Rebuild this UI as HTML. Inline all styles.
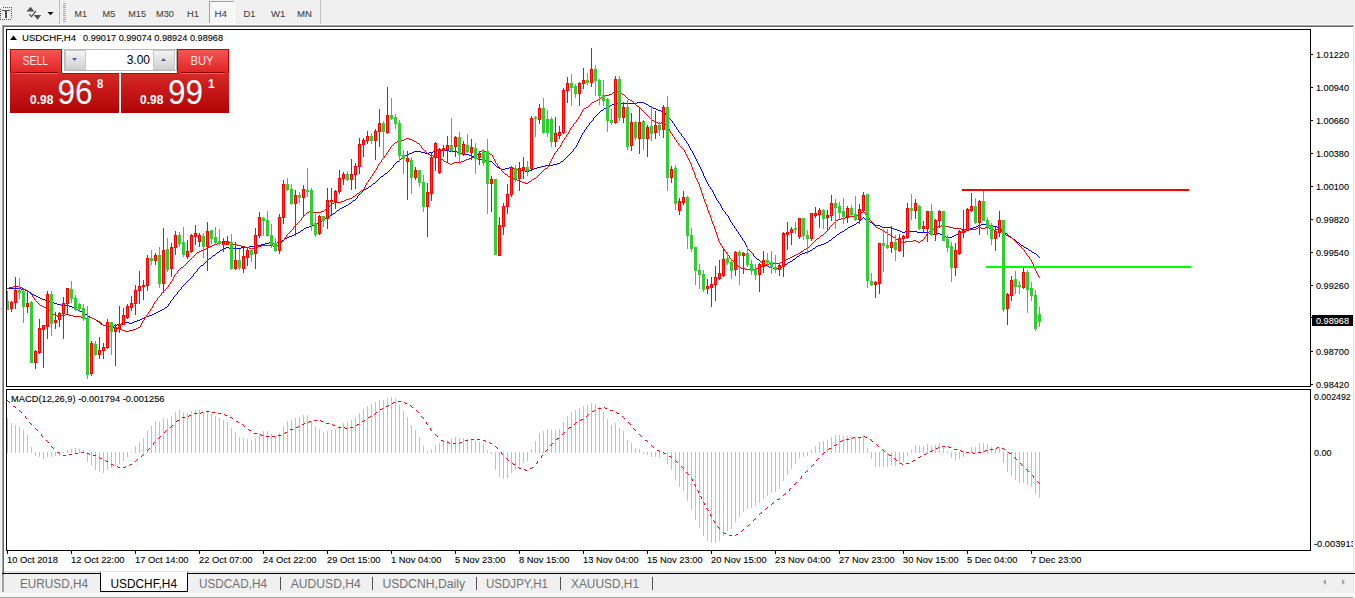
<!DOCTYPE html><html><head><meta charset="utf-8"><style>
html,body{margin:0;padding:0;}body{width:1355px;height:598px;overflow:hidden;background:#f0f0f0;position:relative;font-family:"Liberation Sans",sans-serif;}
svg{position:absolute;left:0;top:0;}text{font-family:"Liberation Sans",sans-serif;}
</style></head><body>
<svg width="1355" height="598" viewBox="0 0 1355 598">
<defs>
<clipPath id="cm"><rect x="7" y="30" width="1303" height="357"/></clipPath>
<clipPath id="cs"><rect x="7" y="390" width="1303" height="160"/></clipPath>
<linearGradient id="gtab" x1="0" y1="0" x2="0" y2="1"><stop offset="0" stop-color="#f85454"/><stop offset="1" stop-color="#e02424"/></linearGradient>
<linearGradient id="gbig" x1="0" y1="0" x2="0" y2="1"><stop offset="0" stop-color="#d82828"/><stop offset="1" stop-color="#b00404"/></linearGradient>
<linearGradient id="gbtn" x1="0" y1="0" x2="0" y2="1"><stop offset="0" stop-color="#f4f4f4"/><stop offset="1" stop-color="#d0d0d0"/></linearGradient>
</defs>
<rect x="0" y="0" width="1355" height="25" fill="#f0f0f0"/>
<g shape-rendering="crispEdges"><rect x="0" y="24" width="1354" height="1" fill="#fafafa"/><rect x="1" y="25" width="1353" height="1" fill="#a0a0a0"/><rect x="2" y="26" width="1351" height="1" fill="#696969"/></g>
<g shape-rendering="crispEdges"><rect x="1" y="25" width="1" height="548" fill="#fafafa"/><rect x="2" y="25" width="1" height="548" fill="#a0a0a0"/><rect x="3" y="26" width="1" height="547" fill="#696969"/></g>
<rect x="4" y="27" width="1349" height="544" fill="#ffffff" shape-rendering="crispEdges"/>
<rect x="4" y="571" width="1349" height="2" fill="#e3e3e3"/>
<rect x="6.5" y="29.5" width="1304" height="357" fill="none" stroke="#000" stroke-width="1"/>
<rect x="6.5" y="389.5" width="1304" height="161" fill="none" stroke="#000" stroke-width="1"/>
<g clip-path="url(#cm)" shape-rendering="crispEdges">
<path d="M7 288h1v1h-1zM8 288h1v1h-1zM9 288h1v1h-1zM10 288h1v1h-1zM11 288h1v1h-1zM12 288h1v1h-1zM13 288h1v1h-1zM14 288h1v1h-1zM15 288h1v1h-1zM16 288h1v1h-1zM17 288h1v1h-1zM18 288h1v1h-1zM19 288h1v1h-1zM20 288h1v1h-1zM21 289h1v1h-1zM22 289h1v1h-1zM23 289h1v1h-1zM24 289h1v1h-1zM25 290h1v1h-1zM26 290h1v1h-1zM27 290h1v1h-1zM28 291h1v1h-1zM29 292h1v1h-1zM30 292h1v1h-1zM31 293h1v1h-1zM32 294h1v1h-1zM33 294h1v1h-1zM34 295h1v1h-1zM35 295h1v1h-1zM36 296h1v1h-1zM37 296h1v1h-1zM38 297h1v1h-1zM39 297h1v1h-1zM40 298h1v1h-1zM41 298h1v1h-1zM42 299h1v1h-1zM43 299h1v1h-1zM44 299h1v1h-1zM45 300h1v1h-1zM46 300h1v1h-1zM47 300h1v1h-1zM48 300h1v1h-1zM49 301h1v1h-1zM50 301h1v1h-1zM51 301h1v1h-1zM52 302h1v1h-1zM53 302h1v1h-1zM54 303h1v1h-1zM55 303h1v1h-1zM56 303h1v1h-1zM57 304h1v1h-1zM58 304h1v1h-1zM59 304h1v1h-1zM60 304h1v1h-1zM61 305h1v1h-1zM62 305h1v1h-1zM63 305h1v1h-1zM64 305h1v1h-1zM65 305h1v1h-1zM66 305h1v1h-1zM67 305h1v1h-1zM68 305h1v1h-1zM69 306h1v1h-1zM70 306h1v1h-1zM71 306h1v1h-1zM72 307h1v1h-1zM73 307h1v1h-1zM74 308h1v1h-1zM75 308h1v1h-1zM76 309h1v1h-1zM77 309h1v1h-1zM78 310h1v1h-1zM79 310h1v1h-1zM80 311h1v1h-1zM81 311h1v1h-1zM82 312h1v1h-1zM83 312h1v1h-1zM84 313h1v1h-1zM85 314h1v1h-1zM86 314h1v1h-1zM87 315h1v1h-1zM88 316h1v1h-1zM89 316h1v1h-1zM90 317h1v1h-1zM91 317h1v1h-1zM92 318h1v1h-1zM93 318h1v1h-1zM94 319h1v1h-1zM95 319h1v1h-1zM96 320h1v1h-1zM97 321h1v1h-1zM98 321h1v1h-1zM99 322h1v1h-1zM100 323h1v1h-1zM101 324h1v1h-1zM102 324h1v1h-1zM103 325h1v1h-1zM104 325h1v1h-1zM105 325h1v1h-1zM106 325h1v1h-1zM107 325h1v1h-1zM108 326h1v1h-1zM109 326h1v1h-1zM110 327h1v1h-1zM111 327h1v1h-1zM112 326h1v1h-1zM113 326h1v1h-1zM114 325h1v1h-1zM115 325h1v1h-1zM116 325h1v1h-1zM117 324h1v1h-1zM118 324h1v1h-1zM119 324h1v1h-1zM120 324h1v1h-1zM121 323h1v1h-1zM122 323h1v1h-1zM123 323h1v1h-1zM124 323h1v1h-1zM125 322h1v1h-1zM126 322h1v1h-1zM127 322h1v1h-1zM128 322h1v1h-1zM129 323h1v1h-1zM130 323h1v1h-1zM131 323h1v1h-1zM132 322h1v1h-1zM133 322h1v1h-1zM134 321h1v1h-1zM135 321h1v1h-1zM136 321h1v1h-1zM137 320h1v1h-1zM138 320h1v1h-1zM139 320h1v1h-1zM140 319h1v1h-1zM141 319h1v1h-1zM142 318h1v1h-1zM143 318h1v1h-1zM144 317h1v1h-1zM145 317h1v1h-1zM146 316h1v1h-1zM147 316h1v1h-1zM148 316h1v1h-1zM149 315h1v1h-1zM150 315h1v1h-1zM151 315h1v1h-1zM152 314h1v1h-1zM153 314h1v1h-1zM154 313h1v1h-1zM155 313h1v1h-1zM156 312h1v1h-1zM157 312h1v1h-1zM158 311h1v1h-1zM159 311h1v1h-1zM160 310h1v1h-1zM161 310h1v1h-1zM162 309h1v1h-1zM163 309h1v1h-1zM164 308h1v1h-1zM165 307h1v1h-1zM166 307h1v1h-1zM167 306h1v1h-1zM168 304h1v2h-1zM169 303h1v1h-1zM170 301h1v2h-1zM171 300h1v1h-1zM172 299h1v1h-1zM173 297h1v2h-1zM174 296h1v1h-1zM175 295h1v1h-1zM176 294h1v1h-1zM177 292h1v2h-1zM178 291h1v1h-1zM179 290h1v1h-1zM180 289h1v1h-1zM181 287h1v2h-1zM182 286h1v1h-1zM183 285h1v1h-1zM184 284h1v1h-1zM185 283h1v1h-1zM186 282h1v1h-1zM187 281h1v1h-1zM188 280h1v1h-1zM189 279h1v1h-1zM190 278h1v1h-1zM191 277h1v1h-1zM192 276h1v1h-1zM193 274h1v2h-1zM194 273h1v1h-1zM195 272h1v1h-1zM196 271h1v1h-1zM197 269h1v2h-1zM198 268h1v1h-1zM199 267h1v1h-1zM200 266h1v1h-1zM201 265h1v1h-1zM202 265h1v1h-1zM203 264h1v1h-1zM204 263h1v1h-1zM205 262h1v1h-1zM206 261h1v1h-1zM207 260h1v1h-1zM208 259h1v1h-1zM209 258h1v1h-1zM210 258h1v1h-1zM211 257h1v1h-1zM212 256h1v1h-1zM213 255h1v1h-1zM214 255h1v1h-1zM215 254h1v1h-1zM216 253h1v1h-1zM217 252h1v1h-1zM218 252h1v1h-1zM219 251h1v1h-1zM220 250h1v1h-1zM221 250h1v1h-1zM222 249h1v1h-1zM223 249h1v1h-1zM224 248h1v1h-1zM225 248h1v1h-1zM226 247h1v1h-1zM227 247h1v1h-1zM228 247h1v1h-1zM229 248h1v1h-1zM230 248h1v1h-1zM231 248h1v1h-1zM232 248h1v1h-1zM233 248h1v1h-1zM234 248h1v1h-1zM235 248h1v1h-1zM236 248h1v1h-1zM237 248h1v1h-1zM238 248h1v1h-1zM239 248h1v1h-1zM240 248h1v1h-1zM241 247h1v1h-1zM242 247h1v1h-1zM243 247h1v1h-1zM244 247h1v1h-1zM245 247h1v1h-1zM246 247h1v1h-1zM247 247h1v1h-1zM248 247h1v1h-1zM249 246h1v1h-1zM250 246h1v1h-1zM251 246h1v1h-1zM252 246h1v1h-1zM253 246h1v1h-1zM254 246h1v1h-1zM255 246h1v1h-1zM256 246h1v1h-1zM257 245h1v1h-1zM258 245h1v1h-1zM259 245h1v1h-1zM260 245h1v1h-1zM261 244h1v1h-1zM262 244h1v1h-1zM263 244h1v1h-1zM264 244h1v1h-1zM265 243h1v1h-1zM266 243h1v1h-1zM267 243h1v1h-1zM268 243h1v1h-1zM269 242h1v1h-1zM270 242h1v1h-1zM271 242h1v1h-1zM272 242h1v1h-1zM273 243h1v1h-1zM274 243h1v1h-1zM275 243h1v1h-1zM276 243h1v1h-1zM277 242h1v1h-1zM278 242h1v1h-1zM279 242h1v1h-1zM280 241h1v1h-1zM281 241h1v1h-1zM282 240h1v1h-1zM283 240h1v1h-1zM284 239h1v1h-1zM285 238h1v1h-1zM286 238h1v1h-1zM287 237h1v1h-1zM288 237h1v1h-1zM289 236h1v1h-1zM290 236h1v1h-1zM291 236h1v1h-1zM292 235h1v1h-1zM293 235h1v1h-1zM294 234h1v1h-1zM295 234h1v1h-1zM296 233h1v1h-1zM297 233h1v1h-1zM298 232h1v1h-1zM299 232h1v1h-1zM300 231h1v1h-1zM301 230h1v1h-1zM302 230h1v1h-1zM303 229h1v1h-1zM304 228h1v1h-1zM305 228h1v1h-1zM306 227h1v1h-1zM307 227h1v1h-1zM308 227h1v1h-1zM309 226h1v1h-1zM310 226h1v1h-1zM311 226h1v1h-1zM312 225h1v1h-1zM313 225h1v1h-1zM314 224h1v1h-1zM315 224h1v1h-1zM316 223h1v1h-1zM317 223h1v1h-1zM318 222h1v1h-1zM319 222h1v1h-1zM320 221h1v1h-1zM321 221h1v1h-1zM322 220h1v1h-1zM323 220h1v1h-1zM324 219h1v1h-1zM325 218h1v1h-1zM326 218h1v1h-1zM327 217h1v1h-1zM328 216h1v1h-1zM329 216h1v1h-1zM330 215h1v1h-1zM331 215h1v1h-1zM332 214h1v1h-1zM333 213h1v1h-1zM334 213h1v1h-1zM335 212h1v1h-1zM336 211h1v1h-1zM337 210h1v1h-1zM338 210h1v1h-1zM339 209h1v1h-1zM340 208h1v1h-1zM341 208h1v1h-1zM342 207h1v1h-1zM343 207h1v1h-1zM344 206h1v1h-1zM345 206h1v1h-1zM346 205h1v1h-1zM347 205h1v1h-1zM348 204h1v1h-1zM349 203h1v1h-1zM350 203h1v1h-1zM351 202h1v1h-1zM352 201h1v1h-1zM353 200h1v1h-1zM354 200h1v1h-1zM355 199h1v1h-1zM356 198h1v1h-1zM357 196h1v2h-1zM358 195h1v1h-1zM359 194h1v1h-1zM360 193h1v1h-1zM361 192h1v1h-1zM362 191h1v1h-1zM363 190h1v1h-1zM364 189h1v1h-1zM365 189h1v1h-1zM366 188h1v1h-1zM367 188h1v1h-1zM368 187h1v1h-1zM369 186h1v1h-1zM370 186h1v1h-1zM371 185h1v1h-1zM372 184h1v1h-1zM373 183h1v1h-1zM374 183h1v1h-1zM375 182h1v1h-1zM376 181h1v1h-1zM377 180h1v1h-1zM378 179h1v1h-1zM379 178h1v1h-1zM380 177h1v1h-1zM381 176h1v1h-1zM382 176h1v1h-1zM383 175h1v1h-1zM384 174h1v1h-1zM385 173h1v1h-1zM386 173h1v1h-1zM387 172h1v1h-1zM388 171h1v1h-1zM389 170h1v1h-1zM390 169h1v1h-1zM391 168h1v1h-1zM392 167h1v1h-1zM393 165h1v2h-1zM394 164h1v1h-1zM395 163h1v1h-1zM396 162h1v1h-1zM397 161h1v1h-1zM398 161h1v1h-1zM399 160h1v1h-1zM400 159h1v1h-1zM401 158h1v1h-1zM402 158h1v1h-1zM403 157h1v1h-1zM404 156h1v1h-1zM405 155h1v1h-1zM406 155h1v1h-1zM407 154h1v1h-1zM408 154h1v1h-1zM409 153h1v1h-1zM410 153h1v1h-1zM411 153h1v1h-1zM412 152h1v1h-1zM413 152h1v1h-1zM414 151h1v1h-1zM415 151h1v1h-1zM416 151h1v1h-1zM417 151h1v1h-1zM418 151h1v1h-1zM419 151h1v1h-1zM420 151h1v1h-1zM421 152h1v1h-1zM422 152h1v1h-1zM423 152h1v1h-1zM424 152h1v1h-1zM425 153h1v1h-1zM426 153h1v1h-1zM427 153h1v1h-1zM428 153h1v1h-1zM429 152h1v1h-1zM430 152h1v1h-1zM431 152h1v1h-1zM432 152h1v1h-1zM433 151h1v1h-1zM434 151h1v1h-1zM435 151h1v1h-1zM436 151h1v1h-1zM437 150h1v1h-1zM438 150h1v1h-1zM439 150h1v1h-1zM440 150h1v1h-1zM441 150h1v1h-1zM442 150h1v1h-1zM443 150h1v1h-1zM444 150h1v1h-1zM445 150h1v1h-1zM446 150h1v1h-1zM447 150h1v1h-1zM448 150h1v1h-1zM449 151h1v1h-1zM450 151h1v1h-1zM451 151h1v1h-1zM452 151h1v1h-1zM453 151h1v1h-1zM454 151h1v1h-1zM455 151h1v1h-1zM456 151h1v1h-1zM457 152h1v1h-1zM458 152h1v1h-1zM459 152h1v1h-1zM460 152h1v1h-1zM461 153h1v1h-1zM462 153h1v1h-1zM463 153h1v1h-1zM464 153h1v1h-1zM465 154h1v1h-1zM466 154h1v1h-1zM467 154h1v1h-1zM468 154h1v1h-1zM469 155h1v1h-1zM470 155h1v1h-1zM471 155h1v1h-1zM472 156h1v1h-1zM473 156h1v1h-1zM474 157h1v1h-1zM475 157h1v1h-1zM476 158h1v1h-1zM477 158h1v1h-1zM478 159h1v1h-1zM479 159h1v1h-1zM480 159h1v1h-1zM481 159h1v1h-1zM482 159h1v1h-1zM483 159h1v1h-1zM484 159h1v1h-1zM485 160h1v1h-1zM486 160h1v1h-1zM487 160h1v1h-1zM488 160h1v1h-1zM489 161h1v1h-1zM490 161h1v1h-1zM491 161h1v1h-1zM492 162h1v1h-1zM493 163h1v1h-1zM494 164h1v1h-1zM495 165h1v1h-1zM496 166h1v1h-1zM497 167h1v1h-1zM498 167h1v1h-1zM499 168h1v1h-1zM500 168h1v1h-1zM501 169h1v1h-1zM502 169h1v1h-1zM503 169h1v1h-1zM504 169h1v1h-1zM505 168h1v1h-1zM506 168h1v1h-1zM507 168h1v1h-1zM508 168h1v1h-1zM509 167h1v1h-1zM510 167h1v1h-1zM511 167h1v1h-1zM512 167h1v1h-1zM513 168h1v1h-1zM514 168h1v1h-1zM515 168h1v1h-1zM516 168h1v1h-1zM517 169h1v1h-1zM518 169h1v1h-1zM519 169h1v1h-1zM520 169h1v1h-1zM521 170h1v1h-1zM522 170h1v1h-1zM523 170h1v1h-1zM524 170h1v1h-1zM525 171h1v1h-1zM526 171h1v1h-1zM527 171h1v1h-1zM528 171h1v1h-1zM529 170h1v1h-1zM530 170h1v1h-1zM531 170h1v1h-1zM532 169h1v1h-1zM533 169h1v1h-1zM534 168h1v1h-1zM535 168h1v1h-1zM536 168h1v1h-1zM537 167h1v1h-1zM538 167h1v1h-1zM539 167h1v1h-1zM540 167h1v1h-1zM541 166h1v1h-1zM542 166h1v1h-1zM543 166h1v1h-1zM544 166h1v1h-1zM545 165h1v1h-1zM546 165h1v1h-1zM547 165h1v1h-1zM548 165h1v1h-1zM549 165h1v1h-1zM550 165h1v1h-1zM551 165h1v1h-1zM552 165h1v1h-1zM553 164h1v1h-1zM554 164h1v1h-1zM555 164h1v1h-1zM556 164h1v1h-1zM557 163h1v1h-1zM558 163h1v1h-1zM559 163h1v1h-1zM560 162h1v1h-1zM561 161h1v1h-1zM562 161h1v1h-1zM563 160h1v1h-1zM564 159h1v1h-1zM565 158h1v1h-1zM566 157h1v1h-1zM567 156h1v1h-1zM568 155h1v1h-1zM569 154h1v1h-1zM570 153h1v1h-1zM571 152h1v1h-1zM572 151h1v1h-1zM573 149h1v2h-1zM574 148h1v1h-1zM575 147h1v1h-1zM576 145h1v2h-1zM577 143h1v2h-1zM578 141h1v2h-1zM579 139h1v2h-1zM580 137h1v2h-1zM581 135h1v2h-1zM582 133h1v2h-1zM583 132h1v1h-1zM584 130h1v2h-1zM585 129h1v1h-1zM586 127h1v2h-1zM587 126h1v1h-1zM588 125h1v1h-1zM589 123h1v2h-1zM590 122h1v1h-1zM591 121h1v1h-1zM592 120h1v1h-1zM593 118h1v2h-1zM594 117h1v1h-1zM595 116h1v1h-1zM596 115h1v1h-1zM597 114h1v1h-1zM598 113h1v1h-1zM599 112h1v1h-1zM600 111h1v1h-1zM601 110h1v1h-1zM602 110h1v1h-1zM603 109h1v1h-1zM604 108h1v1h-1zM605 108h1v1h-1zM606 107h1v1h-1zM607 107h1v1h-1zM608 106h1v1h-1zM609 106h1v1h-1zM610 105h1v1h-1zM611 105h1v1h-1zM612 104h1v1h-1zM613 104h1v1h-1zM614 103h1v1h-1zM615 103h1v1h-1zM616 103h1v1h-1zM617 103h1v1h-1zM618 103h1v1h-1zM619 103h1v1h-1zM620 103h1v1h-1zM621 103h1v1h-1zM622 103h1v1h-1zM623 103h1v1h-1zM624 103h1v1h-1zM625 103h1v1h-1zM626 103h1v1h-1zM627 103h1v1h-1zM628 103h1v1h-1zM629 103h1v1h-1zM630 103h1v1h-1zM631 103h1v1h-1zM632 103h1v1h-1zM633 103h1v1h-1zM634 103h1v1h-1zM635 103h1v1h-1zM636 103h1v1h-1zM637 102h1v1h-1zM638 102h1v1h-1zM639 102h1v1h-1zM640 102h1v1h-1zM641 102h1v1h-1zM642 102h1v1h-1zM643 102h1v1h-1zM644 103h1v1h-1zM645 103h1v1h-1zM646 104h1v1h-1zM647 104h1v1h-1zM648 105h1v1h-1zM649 106h1v1h-1zM650 106h1v1h-1zM651 107h1v1h-1zM652 107h1v1h-1zM653 108h1v1h-1zM654 108h1v1h-1zM655 108h1v1h-1zM656 109h1v1h-1zM657 109h1v1h-1zM658 110h1v1h-1zM659 110h1v1h-1zM660 110h1v1h-1zM661 111h1v1h-1zM662 111h1v1h-1zM663 111h1v1h-1zM664 112h1v1h-1zM665 113h1v2h-1zM666 115h1v1h-1zM667 116h1v1h-1zM668 117h1v1h-1zM669 118h1v1h-1zM670 119h1v1h-1zM671 120h1v1h-1zM672 121h1v2h-1zM673 123h1v1h-1zM674 124h1v2h-1zM675 126h1v1h-1zM676 127h1v2h-1zM677 129h1v1h-1zM678 130h1v2h-1zM679 132h1v1h-1zM680 133h1v1h-1zM681 134h1v2h-1zM682 136h1v1h-1zM683 137h1v1h-1zM684 138h1v2h-1zM685 140h1v1h-1zM686 141h1v2h-1zM687 143h1v1h-1zM688 144h1v2h-1zM689 146h1v2h-1zM690 148h1v2h-1zM691 150h1v1h-1zM692 151h1v2h-1zM693 153h1v2h-1zM694 155h1v2h-1zM695 157h1v2h-1zM696 159h1v2h-1zM697 161h1v2h-1zM698 163h1v2h-1zM699 165h1v2h-1zM700 167h1v2h-1zM701 169h1v2h-1zM702 171h1v2h-1zM703 173h1v3h-1zM704 176h1v2h-1zM705 178h1v2h-1zM706 180h1v2h-1zM707 182h1v2h-1zM708 184h1v2h-1zM709 186h1v1h-1zM710 187h1v2h-1zM711 189h1v1h-1zM712 190h1v2h-1zM713 192h1v2h-1zM714 194h1v2h-1zM715 196h1v2h-1zM716 198h1v2h-1zM717 200h1v1h-1zM718 201h1v2h-1zM719 203h1v1h-1zM720 204h1v2h-1zM721 206h1v2h-1zM722 208h1v2h-1zM723 210h1v1h-1zM724 211h1v1h-1zM725 212h1v2h-1zM726 214h1v1h-1zM727 215h1v1h-1zM728 216h1v2h-1zM729 218h1v2h-1zM730 220h1v2h-1zM731 222h1v1h-1zM732 223h1v2h-1zM733 225h1v1h-1zM734 226h1v2h-1zM735 228h1v1h-1zM736 229h1v2h-1zM737 231h1v1h-1zM738 232h1v2h-1zM739 234h1v1h-1zM740 235h1v2h-1zM741 237h1v1h-1zM742 238h1v2h-1zM743 240h1v1h-1zM744 241h1v2h-1zM745 243h1v2h-1zM746 245h1v2h-1zM747 247h1v2h-1zM748 249h1v1h-1zM749 250h1v1h-1zM750 251h1v1h-1zM751 252h1v1h-1zM752 253h1v1h-1zM753 254h1v2h-1zM754 256h1v1h-1zM755 257h1v1h-1zM756 258h1v1h-1zM757 259h1v1h-1zM758 259h1v1h-1zM759 260h1v1h-1zM760 261h1v1h-1zM761 262h1v1h-1zM762 262h1v1h-1zM763 263h1v1h-1zM764 264h1v1h-1zM765 265h1v1h-1zM766 265h1v1h-1zM767 266h1v1h-1zM768 266h1v1h-1zM769 267h1v1h-1zM770 267h1v1h-1zM771 267h1v1h-1zM772 267h1v1h-1zM773 268h1v1h-1zM774 268h1v1h-1zM775 268h1v1h-1zM776 268h1v1h-1zM777 268h1v1h-1zM778 268h1v1h-1zM779 268h1v1h-1zM780 267h1v1h-1zM781 267h1v1h-1zM782 266h1v1h-1zM783 266h1v1h-1zM784 265h1v1h-1zM785 264h1v1h-1zM786 264h1v1h-1zM787 263h1v1h-1zM788 262h1v1h-1zM789 262h1v1h-1zM790 261h1v1h-1zM791 261h1v1h-1zM792 260h1v1h-1zM793 259h1v1h-1zM794 259h1v1h-1zM795 258h1v1h-1zM796 257h1v1h-1zM797 256h1v1h-1zM798 256h1v1h-1zM799 255h1v1h-1zM800 254h1v1h-1zM801 254h1v1h-1zM802 253h1v1h-1zM803 253h1v1h-1zM804 253h1v1h-1zM805 252h1v1h-1zM806 252h1v1h-1zM807 252h1v1h-1zM808 251h1v1h-1zM809 251h1v1h-1zM810 250h1v1h-1zM811 250h1v1h-1zM812 249h1v1h-1zM813 248h1v1h-1zM814 248h1v1h-1zM815 247h1v1h-1zM816 246h1v1h-1zM817 246h1v1h-1zM818 245h1v1h-1zM819 245h1v1h-1zM820 245h1v1h-1zM821 244h1v1h-1zM822 244h1v1h-1zM823 244h1v1h-1zM824 243h1v1h-1zM825 243h1v1h-1zM826 242h1v1h-1zM827 242h1v1h-1zM828 241h1v1h-1zM829 240h1v1h-1zM830 240h1v1h-1zM831 239h1v1h-1zM832 238h1v1h-1zM833 237h1v1h-1zM834 237h1v1h-1zM835 236h1v1h-1zM836 235h1v1h-1zM837 234h1v1h-1zM838 234h1v1h-1zM839 233h1v1h-1zM840 232h1v1h-1zM841 232h1v1h-1zM842 231h1v1h-1zM843 231h1v1h-1zM844 230h1v1h-1zM845 229h1v1h-1zM846 229h1v1h-1zM847 228h1v1h-1zM848 227h1v1h-1zM849 227h1v1h-1zM850 226h1v1h-1zM851 226h1v1h-1zM852 225h1v1h-1zM853 225h1v1h-1zM854 224h1v1h-1zM855 224h1v1h-1zM856 223h1v1h-1zM857 222h1v1h-1zM858 222h1v1h-1zM859 221h1v1h-1zM860 220h1v1h-1zM861 219h1v1h-1zM862 218h1v1h-1zM863 217h1v1h-1zM864 218h1v1h-1zM865 219h1v1h-1zM866 219h1v1h-1zM867 220h1v1h-1zM868 221h1v1h-1zM869 221h1v1h-1zM870 222h1v1h-1zM871 222h1v1h-1zM872 223h1v1h-1zM873 224h1v1h-1zM874 224h1v1h-1zM875 225h1v1h-1zM876 225h1v1h-1zM877 225h1v1h-1zM878 225h1v1h-1zM879 225h1v1h-1zM880 226h1v1h-1zM881 226h1v1h-1zM882 227h1v1h-1zM883 227h1v1h-1zM884 227h1v1h-1zM885 227h1v1h-1zM886 227h1v1h-1zM887 227h1v1h-1zM888 227h1v1h-1zM889 227h1v1h-1zM890 227h1v1h-1zM891 227h1v1h-1zM892 228h1v1h-1zM893 228h1v1h-1zM894 229h1v1h-1zM895 229h1v1h-1zM896 229h1v1h-1zM897 230h1v1h-1zM898 230h1v1h-1zM899 230h1v1h-1zM900 231h1v1h-1zM901 231h1v1h-1zM902 232h1v1h-1zM903 232h1v1h-1zM904 232h1v1h-1zM905 231h1v1h-1zM906 231h1v1h-1zM907 231h1v1h-1zM908 231h1v1h-1zM909 231h1v1h-1zM910 231h1v1h-1zM911 231h1v1h-1zM912 231h1v1h-1zM913 231h1v1h-1zM914 231h1v1h-1zM915 231h1v1h-1zM916 231h1v1h-1zM917 232h1v1h-1zM918 232h1v1h-1zM919 232h1v1h-1zM920 232h1v1h-1zM921 232h1v1h-1zM922 232h1v1h-1zM923 232h1v1h-1zM924 232h1v1h-1zM925 232h1v1h-1zM926 232h1v1h-1zM927 232h1v1h-1zM928 232h1v1h-1zM929 233h1v1h-1zM930 233h1v1h-1zM931 233h1v1h-1zM932 233h1v1h-1zM933 234h1v1h-1zM934 234h1v1h-1zM935 234h1v1h-1zM936 234h1v1h-1zM937 233h1v1h-1zM938 233h1v1h-1zM939 233h1v1h-1zM940 234h1v1h-1zM941 234h1v1h-1zM942 235h1v1h-1zM943 235h1v1h-1zM944 236h1v1h-1zM945 236h1v1h-1zM946 237h1v1h-1zM947 237h1v1h-1zM948 237h1v1h-1zM949 237h1v1h-1zM950 237h1v1h-1zM951 237h1v1h-1zM952 236h1v1h-1zM953 236h1v1h-1zM954 235h1v1h-1zM955 235h1v1h-1zM956 234h1v1h-1zM957 234h1v1h-1zM958 233h1v1h-1zM959 233h1v1h-1zM960 233h1v1h-1zM961 232h1v1h-1zM962 232h1v1h-1zM963 232h1v1h-1zM964 231h1v1h-1zM965 231h1v1h-1zM966 230h1v1h-1zM967 230h1v1h-1zM968 229h1v1h-1zM969 229h1v1h-1zM970 228h1v1h-1zM971 228h1v1h-1zM972 228h1v1h-1zM973 227h1v1h-1zM974 227h1v1h-1zM975 227h1v1h-1zM976 226h1v1h-1zM977 226h1v1h-1zM978 225h1v1h-1zM979 225h1v1h-1zM980 225h1v1h-1zM981 224h1v1h-1zM982 224h1v1h-1zM983 224h1v1h-1zM984 224h1v1h-1zM985 224h1v1h-1zM986 224h1v1h-1zM987 224h1v1h-1zM988 224h1v1h-1zM989 225h1v1h-1zM990 225h1v1h-1zM991 225h1v1h-1zM992 225h1v1h-1zM993 226h1v1h-1zM994 226h1v1h-1zM995 226h1v1h-1zM996 226h1v1h-1zM997 227h1v1h-1zM998 227h1v1h-1zM999 227h1v1h-1zM1000 228h1v1h-1zM1001 229h1v1h-1zM1002 230h1v1h-1zM1003 231h1v1h-1zM1004 232h1v1h-1zM1005 233h1v1h-1zM1006 233h1v1h-1zM1007 234h1v1h-1zM1008 235h1v1h-1zM1009 236h1v1h-1zM1010 236h1v1h-1zM1011 237h1v1h-1zM1012 238h1v1h-1zM1013 239h1v1h-1zM1014 239h1v1h-1zM1015 240h1v1h-1zM1016 241h1v1h-1zM1017 242h1v1h-1zM1018 242h1v1h-1zM1019 243h1v1h-1zM1020 244h1v1h-1zM1021 245h1v1h-1zM1022 245h1v1h-1zM1023 246h1v1h-1zM1024 247h1v1h-1zM1025 247h1v1h-1zM1026 248h1v1h-1zM1027 248h1v1h-1zM1028 249h1v1h-1zM1029 250h1v1h-1zM1030 250h1v1h-1zM1031 251h1v1h-1zM1032 252h1v1h-1zM1033 252h1v1h-1zM1034 253h1v1h-1zM1035 253h1v1h-1zM1036 254h1v1h-1zM1037 255h1v1h-1zM1038 256h1v1h-1zM1039 257h1v1h-1z" fill="#0000ff" />
<path d="M7 288h1v1h-1zM8 288h1v1h-1zM9 287h1v1h-1zM10 287h1v1h-1zM11 287h1v1h-1zM12 287h1v1h-1zM13 286h1v1h-1zM14 286h1v1h-1zM15 286h1v1h-1zM16 286h1v1h-1zM17 286h1v1h-1zM18 286h1v1h-1zM19 286h1v1h-1zM20 287h1v1h-1zM21 287h1v1h-1zM22 288h1v1h-1zM23 288h1v1h-1zM24 289h1v1h-1zM25 289h1v1h-1zM26 290h1v1h-1zM27 290h1v1h-1zM28 291h1v1h-1zM29 292h1v1h-1zM30 293h1v1h-1zM31 294h1v1h-1zM32 295h1v2h-1zM33 297h1v1h-1zM34 298h1v2h-1zM35 300h1v1h-1zM36 301h1v1h-1zM37 302h1v1h-1zM38 303h1v1h-1zM39 304h1v1h-1zM40 305h1v1h-1zM41 305h1v1h-1zM42 306h1v1h-1zM43 306h1v1h-1zM44 307h1v1h-1zM45 307h1v1h-1zM46 308h1v1h-1zM47 308h1v1h-1zM48 309h1v1h-1zM49 310h1v1h-1zM50 311h1v1h-1zM51 312h1v1h-1zM52 313h1v1h-1zM53 314h1v1h-1zM54 314h1v1h-1zM55 315h1v1h-1zM56 315h1v1h-1zM57 316h1v1h-1zM58 316h1v1h-1zM59 316h1v1h-1zM60 316h1v1h-1zM61 315h1v1h-1zM62 315h1v1h-1zM63 315h1v1h-1zM64 315h1v1h-1zM65 314h1v1h-1zM66 314h1v1h-1zM67 314h1v1h-1zM68 314h1v1h-1zM69 315h1v1h-1zM70 315h1v1h-1zM71 315h1v1h-1zM72 315h1v1h-1zM73 316h1v1h-1zM74 316h1v1h-1zM75 316h1v1h-1zM76 316h1v1h-1zM77 316h1v1h-1zM78 316h1v1h-1zM79 316h1v1h-1zM80 316h1v1h-1zM81 317h1v1h-1zM82 317h1v1h-1zM83 317h1v1h-1zM84 317h1v1h-1zM85 318h1v1h-1zM86 318h1v1h-1zM87 318h1v1h-1zM88 318h1v1h-1zM89 317h1v1h-1zM90 317h1v1h-1zM91 317h1v1h-1zM92 318h1v1h-1zM93 318h1v1h-1zM94 319h1v1h-1zM95 319h1v1h-1zM96 320h1v1h-1zM97 320h1v1h-1zM98 321h1v1h-1zM99 321h1v1h-1zM100 322h1v1h-1zM101 323h1v1h-1zM102 324h1v1h-1zM103 325h1v1h-1zM104 325h1v1h-1zM105 325h1v1h-1zM106 325h1v1h-1zM107 325h1v1h-1zM108 325h1v1h-1zM109 326h1v1h-1zM110 326h1v1h-1zM111 326h1v1h-1zM112 326h1v1h-1zM113 327h1v1h-1zM114 327h1v1h-1zM115 327h1v1h-1zM116 327h1v1h-1zM117 328h1v1h-1zM118 328h1v1h-1zM119 328h1v1h-1zM120 329h1v1h-1zM121 329h1v1h-1zM122 330h1v1h-1zM123 330h1v1h-1zM124 330h1v1h-1zM125 331h1v1h-1zM126 331h1v1h-1zM127 331h1v1h-1zM128 331h1v1h-1zM129 330h1v1h-1zM130 330h1v1h-1zM131 330h1v1h-1zM132 330h1v1h-1zM133 329h1v1h-1zM134 329h1v1h-1zM135 329h1v1h-1zM136 328h1v1h-1zM137 328h1v1h-1zM138 327h1v1h-1zM139 327h1v1h-1zM140 325h1v2h-1zM141 323h1v2h-1zM142 321h1v2h-1zM143 320h1v1h-1zM144 318h1v2h-1zM145 317h1v1h-1zM146 315h1v2h-1zM147 314h1v1h-1zM148 312h1v2h-1zM149 311h1v1h-1zM150 309h1v2h-1zM151 308h1v1h-1zM152 306h1v2h-1zM153 304h1v2h-1zM154 302h1v2h-1zM155 301h1v1h-1zM156 300h1v1h-1zM157 298h1v2h-1zM158 297h1v1h-1zM159 296h1v1h-1zM160 295h1v1h-1zM161 293h1v2h-1zM162 292h1v1h-1zM163 291h1v1h-1zM164 290h1v1h-1zM165 289h1v1h-1zM166 288h1v1h-1zM167 287h1v1h-1zM168 285h1v2h-1zM169 284h1v1h-1zM170 282h1v2h-1zM171 281h1v1h-1zM172 279h1v2h-1zM173 277h1v2h-1zM174 275h1v2h-1zM175 274h1v1h-1zM176 273h1v1h-1zM177 271h1v2h-1zM178 270h1v1h-1zM179 269h1v1h-1zM180 268h1v1h-1zM181 267h1v1h-1zM182 267h1v1h-1zM183 266h1v1h-1zM184 265h1v1h-1zM185 264h1v1h-1zM186 263h1v1h-1zM187 262h1v1h-1zM188 261h1v1h-1zM189 260h1v1h-1zM190 259h1v1h-1zM191 258h1v1h-1zM192 257h1v1h-1zM193 256h1v1h-1zM194 255h1v1h-1zM195 254h1v1h-1zM196 253h1v1h-1zM197 252h1v1h-1zM198 252h1v1h-1zM199 251h1v1h-1zM200 251h1v1h-1zM201 250h1v1h-1zM202 250h1v1h-1zM203 250h1v1h-1zM204 249h1v1h-1zM205 249h1v1h-1zM206 248h1v1h-1zM207 248h1v1h-1zM208 247h1v1h-1zM209 247h1v1h-1zM210 246h1v1h-1zM211 246h1v1h-1zM212 245h1v1h-1zM213 245h1v1h-1zM214 244h1v1h-1zM215 244h1v1h-1zM216 244h1v1h-1zM217 243h1v1h-1zM218 243h1v1h-1zM219 243h1v1h-1zM220 242h1v1h-1zM221 242h1v1h-1zM222 241h1v1h-1zM223 241h1v1h-1zM224 241h1v1h-1zM225 241h1v1h-1zM226 241h1v1h-1zM227 241h1v1h-1zM228 242h1v1h-1zM229 242h1v1h-1zM230 243h1v1h-1zM231 243h1v1h-1zM232 243h1v1h-1zM233 244h1v1h-1zM234 244h1v1h-1zM235 244h1v1h-1zM236 244h1v1h-1zM237 245h1v1h-1zM238 245h1v1h-1zM239 245h1v1h-1zM240 245h1v1h-1zM241 246h1v1h-1zM242 246h1v1h-1zM243 246h1v1h-1zM244 246h1v1h-1zM245 247h1v1h-1zM246 247h1v1h-1zM247 247h1v1h-1zM248 247h1v1h-1zM249 248h1v1h-1zM250 248h1v1h-1zM251 248h1v1h-1zM252 248h1v1h-1zM253 248h1v1h-1zM254 248h1v1h-1zM255 248h1v1h-1zM256 247h1v1h-1zM257 247h1v1h-1zM258 246h1v1h-1zM259 246h1v1h-1zM260 246h1v1h-1zM261 245h1v1h-1zM262 245h1v1h-1zM263 245h1v1h-1zM264 245h1v1h-1zM265 245h1v1h-1zM266 245h1v1h-1zM267 245h1v1h-1zM268 245h1v1h-1zM269 245h1v1h-1zM270 245h1v1h-1zM271 245h1v1h-1zM272 245h1v1h-1zM273 246h1v1h-1zM274 246h1v1h-1zM275 246h1v1h-1zM276 245h1v1h-1zM277 245h1v1h-1zM278 244h1v1h-1zM279 244h1v1h-1zM280 243h1v1h-1zM281 242h1v1h-1zM282 241h1v1h-1zM283 240h1v1h-1zM284 238h1v2h-1zM285 237h1v1h-1zM286 235h1v2h-1zM287 234h1v1h-1zM288 233h1v1h-1zM289 232h1v1h-1zM290 231h1v1h-1zM291 230h1v1h-1zM292 229h1v1h-1zM293 227h1v2h-1zM294 226h1v1h-1zM295 225h1v1h-1zM296 224h1v1h-1zM297 223h1v1h-1zM298 222h1v1h-1zM299 221h1v1h-1zM300 220h1v1h-1zM301 218h1v2h-1zM302 217h1v1h-1zM303 216h1v1h-1zM304 215h1v1h-1zM305 214h1v1h-1zM306 213h1v1h-1zM307 212h1v1h-1zM308 212h1v1h-1zM309 211h1v1h-1zM310 211h1v1h-1zM311 211h1v1h-1zM312 211h1v1h-1zM313 212h1v1h-1zM314 212h1v1h-1zM315 212h1v1h-1zM316 212h1v1h-1zM317 212h1v1h-1zM318 212h1v1h-1zM319 212h1v1h-1zM320 212h1v1h-1zM321 211h1v1h-1zM322 211h1v1h-1zM323 211h1v1h-1zM324 210h1v1h-1zM325 209h1v1h-1zM326 209h1v1h-1zM327 208h1v1h-1zM328 207h1v1h-1zM329 206h1v1h-1zM330 205h1v1h-1zM331 204h1v1h-1zM332 203h1v1h-1zM333 203h1v1h-1zM334 202h1v1h-1zM335 202h1v1h-1zM336 202h1v1h-1zM337 202h1v1h-1zM338 202h1v1h-1zM339 202h1v1h-1zM340 202h1v1h-1zM341 201h1v1h-1zM342 201h1v1h-1zM343 201h1v1h-1zM344 200h1v1h-1zM345 200h1v1h-1zM346 199h1v1h-1zM347 199h1v1h-1zM348 199h1v1h-1zM349 198h1v1h-1zM350 198h1v1h-1zM351 198h1v1h-1zM352 197h1v1h-1zM353 196h1v1h-1zM354 196h1v1h-1zM355 195h1v1h-1zM356 194h1v1h-1zM357 193h1v1h-1zM358 193h1v1h-1zM359 192h1v1h-1zM360 191h1v1h-1zM361 190h1v1h-1zM362 190h1v1h-1zM363 189h1v1h-1zM364 187h1v2h-1zM365 185h1v2h-1zM366 183h1v2h-1zM367 182h1v1h-1zM368 180h1v2h-1zM369 179h1v1h-1zM370 177h1v2h-1zM371 176h1v1h-1zM372 174h1v2h-1zM373 173h1v1h-1zM374 171h1v2h-1zM375 170h1v1h-1zM376 168h1v2h-1zM377 166h1v2h-1zM378 164h1v2h-1zM379 163h1v1h-1zM380 162h1v1h-1zM381 160h1v2h-1zM382 159h1v1h-1zM383 158h1v1h-1zM384 156h1v2h-1zM385 155h1v1h-1zM386 153h1v2h-1zM387 152h1v1h-1zM388 150h1v2h-1zM389 149h1v1h-1zM390 147h1v2h-1zM391 146h1v1h-1zM392 145h1v1h-1zM393 144h1v1h-1zM394 143h1v1h-1zM395 142h1v1h-1zM396 142h1v1h-1zM397 141h1v1h-1zM398 141h1v1h-1zM399 141h1v1h-1zM400 141h1v1h-1zM401 140h1v1h-1zM402 140h1v1h-1zM403 140h1v1h-1zM404 139h1v1h-1zM405 139h1v1h-1zM406 138h1v1h-1zM407 138h1v1h-1zM408 138h1v1h-1zM409 139h1v1h-1zM410 139h1v1h-1zM411 139h1v1h-1zM412 140h1v1h-1zM413 140h1v1h-1zM414 141h1v1h-1zM415 141h1v1h-1zM416 142h1v1h-1zM417 143h1v1h-1zM418 143h1v1h-1zM419 144h1v1h-1zM420 145h1v1h-1zM421 146h1v2h-1zM422 148h1v1h-1zM423 149h1v1h-1zM424 150h1v1h-1zM425 151h1v1h-1zM426 152h1v1h-1zM427 153h1v1h-1zM428 154h1v1h-1zM429 154h1v1h-1zM430 155h1v1h-1zM431 155h1v1h-1zM432 155h1v1h-1zM433 156h1v1h-1zM434 156h1v1h-1zM435 156h1v1h-1zM436 156h1v1h-1zM437 157h1v1h-1zM438 157h1v1h-1zM439 157h1v1h-1zM440 158h1v1h-1zM441 159h1v1h-1zM442 159h1v1h-1zM443 160h1v1h-1zM444 161h1v1h-1zM445 161h1v1h-1zM446 162h1v1h-1zM447 162h1v1h-1zM448 163h1v1h-1zM449 163h1v1h-1zM450 164h1v1h-1zM451 164h1v1h-1zM452 163h1v1h-1zM453 163h1v1h-1zM454 162h1v1h-1zM455 162h1v1h-1zM456 162h1v1h-1zM457 162h1v1h-1zM458 162h1v1h-1zM459 162h1v1h-1zM460 162h1v1h-1zM461 161h1v1h-1zM462 161h1v1h-1zM463 161h1v1h-1zM464 160h1v1h-1zM465 160h1v1h-1zM466 159h1v1h-1zM467 159h1v1h-1zM468 159h1v1h-1zM469 158h1v1h-1zM470 158h1v1h-1zM471 158h1v1h-1zM472 157h1v1h-1zM473 157h1v1h-1zM474 156h1v1h-1zM475 156h1v1h-1zM476 155h1v1h-1zM477 154h1v1h-1zM478 153h1v1h-1zM479 152h1v1h-1zM480 151h1v1h-1zM481 151h1v1h-1zM482 150h1v1h-1zM483 150h1v1h-1zM484 151h1v1h-1zM485 151h1v1h-1zM486 152h1v1h-1zM487 152h1v1h-1zM488 153h1v1h-1zM489 153h1v1h-1zM490 154h1v1h-1zM491 154h1v1h-1zM492 155h1v2h-1zM493 157h1v2h-1zM494 159h1v2h-1zM495 161h1v2h-1zM496 163h1v1h-1zM497 164h1v2h-1zM498 166h1v1h-1zM499 167h1v1h-1zM500 168h1v1h-1zM501 169h1v2h-1zM502 171h1v1h-1zM503 172h1v1h-1zM504 173h1v1h-1zM505 174h1v1h-1zM506 174h1v1h-1zM507 175h1v1h-1zM508 176h1v1h-1zM509 176h1v1h-1zM510 177h1v1h-1zM511 177h1v1h-1zM512 178h1v1h-1zM513 178h1v1h-1zM514 179h1v1h-1zM515 179h1v1h-1zM516 179h1v1h-1zM517 180h1v1h-1zM518 180h1v1h-1zM519 180h1v1h-1zM520 181h1v1h-1zM521 181h1v1h-1zM522 182h1v1h-1zM523 182h1v1h-1zM524 182h1v1h-1zM525 183h1v1h-1zM526 183h1v1h-1zM527 183h1v1h-1zM528 182h1v1h-1zM529 181h1v1h-1zM530 181h1v1h-1zM531 180h1v1h-1zM532 179h1v1h-1zM533 179h1v1h-1zM534 178h1v1h-1zM535 178h1v1h-1zM536 177h1v1h-1zM537 176h1v1h-1zM538 175h1v1h-1zM539 174h1v1h-1zM540 173h1v1h-1zM541 172h1v1h-1zM542 171h1v1h-1zM543 170h1v1h-1zM544 169h1v1h-1zM545 168h1v1h-1zM546 168h1v1h-1zM547 167h1v1h-1zM548 165h1v2h-1zM549 163h1v2h-1zM550 161h1v2h-1zM551 159h1v2h-1zM552 157h1v2h-1zM553 155h1v2h-1zM554 153h1v2h-1zM555 152h1v1h-1zM556 151h1v1h-1zM557 149h1v2h-1zM558 148h1v1h-1zM559 147h1v1h-1zM560 145h1v2h-1zM561 143h1v2h-1zM562 141h1v2h-1zM563 140h1v1h-1zM564 138h1v2h-1zM565 137h1v1h-1zM566 135h1v2h-1zM567 134h1v1h-1zM568 132h1v2h-1zM569 130h1v2h-1zM570 128h1v2h-1zM571 127h1v1h-1zM572 126h1v1h-1zM573 124h1v2h-1zM574 123h1v1h-1zM575 122h1v1h-1zM576 120h1v2h-1zM577 119h1v1h-1zM578 117h1v2h-1zM579 116h1v1h-1zM580 114h1v2h-1zM581 112h1v2h-1zM582 110h1v2h-1zM583 109h1v1h-1zM584 108h1v1h-1zM585 108h1v1h-1zM586 107h1v1h-1zM587 107h1v1h-1zM588 106h1v1h-1zM589 105h1v1h-1zM590 104h1v1h-1zM591 103h1v1h-1zM592 102h1v1h-1zM593 102h1v1h-1zM594 101h1v1h-1zM595 101h1v1h-1zM596 100h1v1h-1zM597 100h1v1h-1zM598 99h1v1h-1zM599 99h1v1h-1zM600 98h1v1h-1zM601 97h1v1h-1zM602 97h1v1h-1zM603 96h1v1h-1zM604 96h1v1h-1zM605 95h1v1h-1zM606 95h1v1h-1zM607 95h1v1h-1zM608 95h1v1h-1zM609 94h1v1h-1zM610 94h1v1h-1zM611 94h1v1h-1zM612 93h1v1h-1zM613 92h1v1h-1zM614 91h1v1h-1zM615 90h1v1h-1zM616 91h1v1h-1zM617 91h1v1h-1zM618 92h1v1h-1zM619 92h1v1h-1zM620 93h1v1h-1zM621 93h1v1h-1zM622 94h1v1h-1zM623 94h1v1h-1zM624 95h1v1h-1zM625 96h1v1h-1zM626 97h1v1h-1zM627 98h1v1h-1zM628 99h1v1h-1zM629 99h1v1h-1zM630 100h1v1h-1zM631 100h1v1h-1zM632 101h1v1h-1zM633 102h1v1h-1zM634 103h1v1h-1zM635 104h1v1h-1zM636 105h1v1h-1zM637 106h1v1h-1zM638 106h1v1h-1zM639 107h1v1h-1zM640 108h1v1h-1zM641 109h1v1h-1zM642 110h1v1h-1zM643 111h1v1h-1zM644 112h1v1h-1zM645 113h1v1h-1zM646 114h1v1h-1zM647 115h1v1h-1zM648 116h1v1h-1zM649 117h1v1h-1zM650 118h1v1h-1zM651 119h1v1h-1zM652 120h1v1h-1zM653 120h1v1h-1zM654 121h1v1h-1zM655 121h1v1h-1zM656 122h1v1h-1zM657 122h1v1h-1zM658 123h1v1h-1zM659 123h1v1h-1zM660 123h1v1h-1zM661 122h1v1h-1zM662 122h1v1h-1zM663 122h1v1h-1zM664 123h1v1h-1zM665 124h1v1h-1zM666 125h1v1h-1zM667 126h1v1h-1zM668 127h1v2h-1zM669 129h1v2h-1zM670 131h1v2h-1zM671 133h1v1h-1zM672 134h1v2h-1zM673 136h1v1h-1zM674 137h1v2h-1zM675 139h1v1h-1zM676 140h1v2h-1zM677 142h1v1h-1zM678 143h1v2h-1zM679 145h1v1h-1zM680 146h1v1h-1zM681 147h1v1h-1zM682 148h1v1h-1zM683 149h1v1h-1zM684 150h1v2h-1zM685 152h1v2h-1zM686 154h1v2h-1zM687 156h1v2h-1zM688 158h1v2h-1zM689 160h1v2h-1zM690 162h1v2h-1zM691 164h1v3h-1zM692 167h1v3h-1zM693 170h1v2h-1zM694 172h1v3h-1zM695 175h1v3h-1zM696 178h1v2h-1zM697 180h1v2h-1zM698 182h1v2h-1zM699 184h1v3h-1zM700 187h1v3h-1zM701 190h1v3h-1zM702 193h1v3h-1zM703 196h1v3h-1zM704 199h1v3h-1zM705 202h1v2h-1zM706 204h1v3h-1zM707 207h1v3h-1zM708 210h1v3h-1zM709 213h1v2h-1zM710 215h1v3h-1zM711 218h1v3h-1zM712 221h1v3h-1zM713 224h1v2h-1zM714 226h1v3h-1zM715 229h1v3h-1zM716 232h1v3h-1zM717 235h1v3h-1zM718 238h1v3h-1zM719 241h1v2h-1zM720 243h1v2h-1zM721 245h1v1h-1zM722 246h1v2h-1zM723 248h1v1h-1zM724 249h1v2h-1zM725 251h1v1h-1zM726 252h1v2h-1zM727 254h1v1h-1zM728 255h1v1h-1zM729 256h1v2h-1zM730 258h1v1h-1zM731 259h1v1h-1zM732 260h1v1h-1zM733 261h1v1h-1zM734 262h1v1h-1zM735 263h1v1h-1zM736 264h1v1h-1zM737 265h1v1h-1zM738 266h1v1h-1zM739 267h1v1h-1zM740 267h1v1h-1zM741 268h1v1h-1zM742 268h1v1h-1zM743 268h1v1h-1zM744 268h1v1h-1zM745 269h1v1h-1zM746 269h1v1h-1zM747 269h1v1h-1zM748 269h1v1h-1zM749 269h1v1h-1zM750 269h1v1h-1zM751 269h1v1h-1zM752 269h1v1h-1zM753 269h1v1h-1zM754 269h1v1h-1zM755 269h1v1h-1zM756 268h1v1h-1zM757 268h1v1h-1zM758 267h1v1h-1zM759 267h1v1h-1zM760 267h1v1h-1zM761 266h1v1h-1zM762 266h1v1h-1zM763 266h1v1h-1zM764 265h1v1h-1zM765 265h1v1h-1zM766 264h1v1h-1zM767 264h1v1h-1zM768 264h1v1h-1zM769 263h1v1h-1zM770 263h1v1h-1zM771 263h1v1h-1zM772 263h1v1h-1zM773 263h1v1h-1zM774 263h1v1h-1zM775 263h1v1h-1zM776 263h1v1h-1zM777 263h1v1h-1zM778 263h1v1h-1zM779 263h1v1h-1zM780 262h1v1h-1zM781 262h1v1h-1zM782 261h1v1h-1zM783 261h1v1h-1zM784 260h1v1h-1zM785 260h1v1h-1zM786 259h1v1h-1zM787 259h1v1h-1zM788 258h1v1h-1zM789 258h1v1h-1zM790 257h1v1h-1zM791 257h1v1h-1zM792 256h1v1h-1zM793 256h1v1h-1zM794 255h1v1h-1zM795 255h1v1h-1zM796 254h1v1h-1zM797 254h1v1h-1zM798 253h1v1h-1zM799 253h1v1h-1zM800 252h1v1h-1zM801 251h1v1h-1zM802 251h1v1h-1zM803 250h1v1h-1zM804 249h1v1h-1zM805 249h1v1h-1zM806 248h1v1h-1zM807 248h1v1h-1zM808 247h1v1h-1zM809 246h1v1h-1zM810 245h1v1h-1zM811 244h1v1h-1zM812 243h1v1h-1zM813 242h1v1h-1zM814 241h1v1h-1zM815 240h1v1h-1zM816 239h1v1h-1zM817 238h1v1h-1zM818 238h1v1h-1zM819 237h1v1h-1zM820 236h1v1h-1zM821 235h1v1h-1zM822 235h1v1h-1zM823 234h1v1h-1zM824 233h1v1h-1zM825 232h1v1h-1zM826 231h1v1h-1zM827 230h1v1h-1zM828 229h1v1h-1zM829 227h1v2h-1zM830 226h1v1h-1zM831 225h1v1h-1zM832 224h1v1h-1zM833 223h1v1h-1zM834 222h1v1h-1zM835 221h1v1h-1zM836 220h1v1h-1zM837 220h1v1h-1zM838 219h1v1h-1zM839 219h1v1h-1zM840 219h1v1h-1zM841 218h1v1h-1zM842 218h1v1h-1zM843 218h1v1h-1zM844 218h1v1h-1zM845 217h1v1h-1zM846 217h1v1h-1zM847 217h1v1h-1zM848 217h1v1h-1zM849 216h1v1h-1zM850 216h1v1h-1zM851 216h1v1h-1zM852 216h1v1h-1zM853 216h1v1h-1zM854 216h1v1h-1zM855 216h1v1h-1zM856 215h1v1h-1zM857 215h1v1h-1zM858 214h1v1h-1zM859 214h1v1h-1zM860 213h1v1h-1zM861 212h1v1h-1zM862 212h1v1h-1zM863 211h1v1h-1zM864 212h1v1h-1zM865 213h1v2h-1zM866 215h1v1h-1zM867 216h1v1h-1zM868 217h1v1h-1zM869 218h1v2h-1zM870 220h1v1h-1zM871 221h1v1h-1zM872 222h1v1h-1zM873 223h1v2h-1zM874 225h1v1h-1zM875 226h1v1h-1zM876 227h1v1h-1zM877 227h1v1h-1zM878 228h1v1h-1zM879 228h1v1h-1zM880 229h1v1h-1zM881 229h1v1h-1zM882 230h1v1h-1zM883 230h1v1h-1zM884 231h1v1h-1zM885 232h1v1h-1zM886 232h1v1h-1zM887 233h1v1h-1zM888 234h1v1h-1zM889 234h1v1h-1zM890 235h1v1h-1zM891 235h1v1h-1zM892 236h1v1h-1zM893 237h1v1h-1zM894 237h1v1h-1zM895 238h1v1h-1zM896 239h1v1h-1zM897 239h1v1h-1zM898 240h1v1h-1zM899 240h1v1h-1zM900 241h1v1h-1zM901 241h1v1h-1zM902 242h1v1h-1zM903 242h1v1h-1zM904 242h1v1h-1zM905 241h1v1h-1zM906 241h1v1h-1zM907 241h1v1h-1zM908 241h1v1h-1zM909 241h1v1h-1zM910 241h1v1h-1zM911 241h1v1h-1zM912 241h1v1h-1zM913 240h1v1h-1zM914 240h1v1h-1zM915 240h1v1h-1zM916 241h1v1h-1zM917 241h1v1h-1zM918 242h1v1h-1zM919 242h1v1h-1zM920 241h1v1h-1zM921 240h1v1h-1zM922 240h1v1h-1zM923 239h1v1h-1zM924 237h1v2h-1zM925 236h1v1h-1zM926 234h1v2h-1zM927 233h1v1h-1zM928 232h1v1h-1zM929 231h1v1h-1zM930 231h1v1h-1zM931 230h1v1h-1zM932 229h1v1h-1zM933 229h1v1h-1zM934 228h1v1h-1zM935 228h1v1h-1zM936 227h1v1h-1zM937 227h1v1h-1zM938 226h1v1h-1zM939 226h1v1h-1zM940 226h1v1h-1zM941 225h1v1h-1zM942 225h1v1h-1zM943 225h1v1h-1zM944 225h1v1h-1zM945 226h1v1h-1zM946 226h1v1h-1zM947 226h1v1h-1zM948 226h1v1h-1zM949 227h1v1h-1zM950 227h1v1h-1zM951 227h1v1h-1zM952 227h1v1h-1zM953 228h1v1h-1zM954 228h1v1h-1zM955 228h1v1h-1zM956 228h1v1h-1zM957 228h1v1h-1zM958 228h1v1h-1zM959 228h1v1h-1zM960 228h1v1h-1zM961 229h1v1h-1zM962 229h1v1h-1zM963 229h1v1h-1zM964 229h1v1h-1zM965 229h1v1h-1zM966 229h1v1h-1zM967 229h1v1h-1zM968 229h1v1h-1zM969 229h1v1h-1zM970 229h1v1h-1zM971 229h1v1h-1zM972 229h1v1h-1zM973 229h1v1h-1zM974 229h1v1h-1zM975 229h1v1h-1zM976 228h1v1h-1zM977 228h1v1h-1zM978 227h1v1h-1zM979 227h1v1h-1zM980 227h1v1h-1zM981 228h1v1h-1zM982 228h1v1h-1zM983 228h1v1h-1zM984 228h1v1h-1zM985 227h1v1h-1zM986 227h1v1h-1zM987 227h1v1h-1zM988 227h1v1h-1zM989 228h1v1h-1zM990 228h1v1h-1zM991 228h1v1h-1zM992 229h1v1h-1zM993 229h1v1h-1zM994 230h1v1h-1zM995 230h1v1h-1zM996 229h1v1h-1zM997 229h1v1h-1zM998 228h1v1h-1zM999 228h1v1h-1zM1000 229h1v1h-1zM1001 230h1v2h-1zM1002 232h1v1h-1zM1003 233h1v1h-1zM1004 234h1v1h-1zM1005 234h1v1h-1zM1006 235h1v1h-1zM1007 235h1v1h-1zM1008 236h1v1h-1zM1009 236h1v1h-1zM1010 237h1v1h-1zM1011 237h1v1h-1zM1012 238h1v1h-1zM1013 239h1v1h-1zM1014 240h1v1h-1zM1015 241h1v1h-1zM1016 242h1v1h-1zM1017 243h1v1h-1zM1018 244h1v1h-1zM1019 245h1v1h-1zM1020 246h1v1h-1zM1021 247h1v1h-1zM1022 248h1v1h-1zM1023 249h1v1h-1zM1024 250h1v2h-1zM1025 252h1v1h-1zM1026 253h1v2h-1zM1027 255h1v1h-1zM1028 256h1v1h-1zM1029 257h1v2h-1zM1030 259h1v1h-1zM1031 260h1v2h-1zM1032 262h1v2h-1zM1033 264h1v3h-1zM1034 267h1v2h-1zM1035 269h1v2h-1zM1036 271h1v2h-1zM1037 273h1v2h-1zM1038 275h1v2h-1zM1039 277h1v1h-1z" fill="#ff0000" />
</g>
<g clip-path="url(#cm)" shape-rendering="crispEdges">
<rect x="7" y="291" width="1" height="19" fill="#32cd32"/><rect x="6" y="301" width="3" height="9" fill="#32cd32"/>
<rect x="11" y="301" width="1" height="11" fill="#ff0000"/><rect x="10" y="302" width="3" height="7" fill="#ff0000"/>
<rect x="11" y="303" width="1" height="5" fill="#ff4500"/>
<rect x="15" y="277" width="1" height="32" fill="#ff0000"/><rect x="14" y="290" width="3" height="13" fill="#ff0000"/>
<rect x="15" y="291" width="1" height="11" fill="#ff4500"/>
<rect x="19" y="278" width="1" height="21" fill="#32cd32"/><rect x="18" y="290" width="3" height="3" fill="#32cd32"/>
<rect x="23" y="289" width="1" height="34" fill="#32cd32"/><rect x="22" y="291" width="3" height="16" fill="#32cd32"/>
<rect x="27" y="290" width="1" height="23" fill="#ff0000"/><rect x="26" y="303" width="3" height="4" fill="#ff0000"/>
<rect x="27" y="304" width="1" height="2" fill="#ff4500"/>
<rect x="31" y="301" width="1" height="62" fill="#32cd32"/><rect x="30" y="302" width="3" height="61" fill="#32cd32"/>
<rect x="35" y="350" width="1" height="19" fill="#ff0000"/><rect x="34" y="351" width="3" height="12" fill="#ff0000"/>
<rect x="35" y="352" width="1" height="10" fill="#ff4500"/>
<rect x="39" y="319" width="1" height="35" fill="#ff0000"/><rect x="38" y="328" width="3" height="25" fill="#ff0000"/>
<rect x="39" y="329" width="1" height="23" fill="#ff4500"/>
<rect x="43" y="325" width="1" height="43" fill="#ff0000"/><rect x="42" y="325" width="3" height="5" fill="#ff0000"/>
<rect x="43" y="326" width="1" height="3" fill="#ff4500"/>
<rect x="47" y="291" width="1" height="48" fill="#ff0000"/><rect x="46" y="294" width="3" height="33" fill="#ff0000"/>
<rect x="47" y="295" width="1" height="31" fill="#ff4500"/>
<rect x="51" y="291" width="1" height="45" fill="#32cd32"/><rect x="50" y="294" width="3" height="30" fill="#32cd32"/>
<rect x="55" y="312" width="1" height="17" fill="#ff0000"/><rect x="54" y="320" width="3" height="3" fill="#ff0000"/>
<rect x="55" y="321" width="1" height="1" fill="#ff4500"/>
<rect x="59" y="312" width="1" height="15" fill="#ff0000"/><rect x="58" y="313" width="3" height="7" fill="#ff0000"/>
<rect x="59" y="314" width="1" height="5" fill="#ff4500"/>
<rect x="63" y="297" width="1" height="42" fill="#ff0000"/><rect x="62" y="303" width="3" height="11" fill="#ff0000"/>
<rect x="63" y="304" width="1" height="9" fill="#ff4500"/>
<rect x="67" y="288" width="1" height="27" fill="#ff0000"/><rect x="66" y="288" width="3" height="16" fill="#ff0000"/>
<rect x="67" y="289" width="1" height="14" fill="#ff4500"/>
<rect x="71" y="281" width="1" height="22" fill="#32cd32"/><rect x="70" y="289" width="3" height="10" fill="#32cd32"/>
<rect x="75" y="295" width="1" height="16" fill="#32cd32"/><rect x="74" y="298" width="3" height="12" fill="#32cd32"/>
<rect x="79" y="303" width="1" height="9" fill="#32cd32"/><rect x="78" y="304" width="3" height="5" fill="#32cd32"/>
<rect x="83" y="304" width="1" height="17" fill="#32cd32"/><rect x="82" y="308" width="3" height="11" fill="#32cd32"/>
<rect x="87" y="306" width="1" height="73" fill="#32cd32"/><rect x="86" y="318" width="3" height="57" fill="#32cd32"/>
<rect x="91" y="341" width="1" height="35" fill="#ff0000"/><rect x="90" y="343" width="3" height="31" fill="#ff0000"/>
<rect x="91" y="344" width="1" height="29" fill="#ff4500"/>
<rect x="95" y="341" width="1" height="15" fill="#32cd32"/><rect x="94" y="344" width="3" height="11" fill="#32cd32"/>
<rect x="99" y="337" width="1" height="22" fill="#ff0000"/><rect x="98" y="350" width="3" height="5" fill="#ff0000"/>
<rect x="99" y="351" width="1" height="3" fill="#ff4500"/>
<rect x="103" y="343" width="1" height="16" fill="#ff0000"/><rect x="102" y="347" width="3" height="4" fill="#ff0000"/>
<rect x="103" y="348" width="1" height="2" fill="#ff4500"/>
<rect x="107" y="319" width="1" height="30" fill="#ff0000"/><rect x="106" y="322" width="3" height="26" fill="#ff0000"/>
<rect x="107" y="323" width="1" height="24" fill="#ff4500"/>
<rect x="111" y="322" width="1" height="33" fill="#32cd32"/><rect x="110" y="322" width="3" height="10" fill="#32cd32"/>
<rect x="115" y="324" width="1" height="42" fill="#ff0000"/><rect x="114" y="328" width="3" height="4" fill="#ff0000"/>
<rect x="115" y="329" width="1" height="2" fill="#ff4500"/>
<rect x="119" y="306" width="1" height="27" fill="#ff0000"/><rect x="118" y="324" width="3" height="5" fill="#ff0000"/>
<rect x="119" y="325" width="1" height="3" fill="#ff4500"/>
<rect x="123" y="308" width="1" height="17" fill="#ff0000"/><rect x="122" y="315" width="3" height="10" fill="#ff0000"/>
<rect x="123" y="316" width="1" height="8" fill="#ff4500"/>
<rect x="127" y="304" width="1" height="15" fill="#ff0000"/><rect x="126" y="306" width="3" height="12" fill="#ff0000"/>
<rect x="127" y="307" width="1" height="10" fill="#ff4500"/>
<rect x="131" y="296" width="1" height="15" fill="#ff0000"/><rect x="130" y="303" width="3" height="5" fill="#ff0000"/>
<rect x="131" y="304" width="1" height="3" fill="#ff4500"/>
<rect x="135" y="285" width="1" height="30" fill="#ff0000"/><rect x="134" y="290" width="3" height="14" fill="#ff0000"/>
<rect x="135" y="291" width="1" height="12" fill="#ff4500"/>
<rect x="139" y="271" width="1" height="33" fill="#ff0000"/><rect x="138" y="286" width="3" height="5" fill="#ff0000"/>
<rect x="139" y="287" width="1" height="3" fill="#ff4500"/>
<rect x="143" y="280" width="1" height="20" fill="#ff0000"/><rect x="142" y="285" width="3" height="2" fill="#ff0000"/>
<rect x="147" y="255" width="1" height="36" fill="#ff0000"/><rect x="146" y="258" width="3" height="28" fill="#ff0000"/>
<rect x="147" y="259" width="1" height="26" fill="#ff4500"/>
<rect x="151" y="250" width="1" height="15" fill="#32cd32"/><rect x="150" y="258" width="3" height="3" fill="#32cd32"/>
<rect x="155" y="253" width="1" height="12" fill="#ff0000"/><rect x="154" y="255" width="3" height="6" fill="#ff0000"/>
<rect x="155" y="256" width="1" height="4" fill="#ff4500"/>
<rect x="159" y="247" width="1" height="41" fill="#32cd32"/><rect x="158" y="255" width="3" height="29" fill="#32cd32"/>
<rect x="163" y="228" width="1" height="65" fill="#ff0000"/><rect x="162" y="250" width="3" height="34" fill="#ff0000"/>
<rect x="163" y="251" width="1" height="32" fill="#ff4500"/>
<rect x="167" y="238" width="1" height="34" fill="#32cd32"/><rect x="166" y="249" width="3" height="21" fill="#32cd32"/>
<rect x="171" y="243" width="1" height="34" fill="#ff0000"/><rect x="170" y="247" width="3" height="22" fill="#ff0000"/>
<rect x="171" y="248" width="1" height="20" fill="#ff4500"/>
<rect x="175" y="231" width="1" height="24" fill="#ff0000"/><rect x="174" y="235" width="3" height="13" fill="#ff0000"/>
<rect x="175" y="236" width="1" height="11" fill="#ff4500"/>
<rect x="179" y="232" width="1" height="15" fill="#32cd32"/><rect x="178" y="235" width="3" height="9" fill="#32cd32"/>
<rect x="183" y="227" width="1" height="30" fill="#32cd32"/><rect x="182" y="242" width="3" height="13" fill="#32cd32"/>
<rect x="187" y="240" width="1" height="19" fill="#ff0000"/><rect x="186" y="251" width="3" height="6" fill="#ff0000"/>
<rect x="187" y="252" width="1" height="4" fill="#ff4500"/>
<rect x="191" y="234" width="1" height="19" fill="#ff0000"/><rect x="190" y="235" width="3" height="17" fill="#ff0000"/>
<rect x="191" y="236" width="1" height="15" fill="#ff4500"/>
<rect x="195" y="225" width="1" height="20" fill="#ff0000"/><rect x="194" y="233" width="3" height="4" fill="#ff0000"/>
<rect x="195" y="234" width="1" height="2" fill="#ff4500"/>
<rect x="199" y="233" width="1" height="14" fill="#ff0000"/><rect x="198" y="235" width="3" height="7" fill="#ff0000"/>
<rect x="199" y="236" width="1" height="5" fill="#ff4500"/>
<rect x="203" y="233" width="1" height="25" fill="#32cd32"/><rect x="202" y="236" width="3" height="11" fill="#32cd32"/>
<rect x="207" y="222" width="1" height="49" fill="#ff0000"/><rect x="206" y="231" width="3" height="16" fill="#ff0000"/>
<rect x="207" y="232" width="1" height="14" fill="#ff4500"/>
<rect x="211" y="230" width="1" height="14" fill="#32cd32"/><rect x="210" y="230" width="3" height="9" fill="#32cd32"/>
<rect x="215" y="227" width="1" height="18" fill="#32cd32"/><rect x="214" y="237" width="3" height="6" fill="#32cd32"/>
<rect x="219" y="229" width="1" height="17" fill="#32cd32"/><rect x="218" y="241" width="3" height="3" fill="#32cd32"/>
<rect x="223" y="238" width="1" height="14" fill="#ff0000"/><rect x="222" y="242" width="3" height="3" fill="#ff0000"/>
<rect x="223" y="243" width="1" height="1" fill="#ff4500"/>
<rect x="227" y="236" width="1" height="9" fill="#ff0000"/><rect x="226" y="241" width="3" height="4" fill="#ff0000"/>
<rect x="227" y="242" width="1" height="2" fill="#ff4500"/>
<rect x="231" y="234" width="1" height="36" fill="#32cd32"/><rect x="230" y="242" width="3" height="27" fill="#32cd32"/>
<rect x="235" y="242" width="1" height="28" fill="#ff0000"/><rect x="234" y="260" width="3" height="9" fill="#ff0000"/>
<rect x="235" y="261" width="1" height="7" fill="#ff4500"/>
<rect x="239" y="249" width="1" height="21" fill="#32cd32"/><rect x="238" y="260" width="3" height="8" fill="#32cd32"/>
<rect x="243" y="247" width="1" height="26" fill="#ff0000"/><rect x="242" y="256" width="3" height="13" fill="#ff0000"/>
<rect x="243" y="257" width="1" height="11" fill="#ff4500"/>
<rect x="247" y="247" width="1" height="19" fill="#ff0000"/><rect x="246" y="250" width="3" height="8" fill="#ff0000"/>
<rect x="247" y="251" width="1" height="6" fill="#ff4500"/>
<rect x="251" y="248" width="1" height="14" fill="#32cd32"/><rect x="250" y="250" width="3" height="5" fill="#32cd32"/>
<rect x="255" y="228" width="1" height="41" fill="#ff0000"/><rect x="254" y="235" width="3" height="19" fill="#ff0000"/>
<rect x="255" y="236" width="1" height="17" fill="#ff4500"/>
<rect x="259" y="212" width="1" height="26" fill="#ff0000"/><rect x="258" y="217" width="3" height="19" fill="#ff0000"/>
<rect x="259" y="218" width="1" height="17" fill="#ff4500"/>
<rect x="263" y="217" width="1" height="19" fill="#32cd32"/><rect x="262" y="218" width="3" height="3" fill="#32cd32"/>
<rect x="267" y="211" width="1" height="26" fill="#32cd32"/><rect x="266" y="220" width="3" height="16" fill="#32cd32"/>
<rect x="271" y="224" width="1" height="24" fill="#32cd32"/><rect x="270" y="235" width="3" height="10" fill="#32cd32"/>
<rect x="275" y="238" width="1" height="14" fill="#32cd32"/><rect x="274" y="243" width="3" height="8" fill="#32cd32"/>
<rect x="279" y="214" width="1" height="40" fill="#ff0000"/><rect x="278" y="217" width="3" height="34" fill="#ff0000"/>
<rect x="279" y="218" width="1" height="32" fill="#ff4500"/>
<rect x="283" y="180" width="1" height="44" fill="#ff0000"/><rect x="282" y="184" width="3" height="34" fill="#ff0000"/>
<rect x="283" y="185" width="1" height="32" fill="#ff4500"/>
<rect x="287" y="178" width="1" height="13" fill="#32cd32"/><rect x="286" y="184" width="3" height="6" fill="#32cd32"/>
<rect x="291" y="184" width="1" height="21" fill="#32cd32"/><rect x="290" y="189" width="3" height="15" fill="#32cd32"/>
<rect x="295" y="190" width="1" height="46" fill="#ff0000"/><rect x="294" y="195" width="3" height="9" fill="#ff0000"/>
<rect x="295" y="196" width="1" height="7" fill="#ff4500"/>
<rect x="299" y="192" width="1" height="11" fill="#32cd32"/><rect x="298" y="195" width="3" height="3" fill="#32cd32"/>
<rect x="303" y="185" width="1" height="32" fill="#ff0000"/><rect x="302" y="189" width="3" height="9" fill="#ff0000"/>
<rect x="303" y="190" width="1" height="7" fill="#ff4500"/>
<rect x="307" y="168" width="1" height="29" fill="#32cd32"/><rect x="306" y="190" width="3" height="2" fill="#32cd32"/>
<rect x="311" y="188" width="1" height="43" fill="#32cd32"/><rect x="310" y="190" width="3" height="35" fill="#32cd32"/>
<rect x="315" y="213" width="1" height="24" fill="#32cd32"/><rect x="314" y="223" width="3" height="12" fill="#32cd32"/>
<rect x="319" y="215" width="1" height="20" fill="#ff0000"/><rect x="318" y="216" width="3" height="18" fill="#ff0000"/>
<rect x="319" y="217" width="1" height="16" fill="#ff4500"/>
<rect x="323" y="216" width="1" height="11" fill="#32cd32"/><rect x="322" y="216" width="3" height="5" fill="#32cd32"/>
<rect x="327" y="188" width="1" height="41" fill="#ff0000"/><rect x="326" y="200" width="3" height="19" fill="#ff0000"/>
<rect x="327" y="201" width="1" height="17" fill="#ff4500"/>
<rect x="331" y="188" width="1" height="28" fill="#ff0000"/><rect x="330" y="200" width="3" height="2" fill="#ff0000"/>
<rect x="335" y="190" width="1" height="19" fill="#ff0000"/><rect x="334" y="191" width="3" height="11" fill="#ff0000"/>
<rect x="335" y="192" width="1" height="9" fill="#ff4500"/>
<rect x="339" y="170" width="1" height="24" fill="#ff0000"/><rect x="338" y="178" width="3" height="14" fill="#ff0000"/>
<rect x="339" y="179" width="1" height="12" fill="#ff4500"/>
<rect x="343" y="172" width="1" height="13" fill="#ff0000"/><rect x="342" y="174" width="3" height="5" fill="#ff0000"/>
<rect x="343" y="175" width="1" height="3" fill="#ff4500"/>
<rect x="347" y="171" width="1" height="10" fill="#32cd32"/><rect x="346" y="174" width="3" height="6" fill="#32cd32"/>
<rect x="351" y="159" width="1" height="31" fill="#ff0000"/><rect x="350" y="174" width="3" height="6" fill="#ff0000"/>
<rect x="351" y="175" width="1" height="4" fill="#ff4500"/>
<rect x="355" y="163" width="1" height="26" fill="#ff0000"/><rect x="354" y="166" width="3" height="9" fill="#ff0000"/>
<rect x="355" y="167" width="1" height="7" fill="#ff4500"/>
<rect x="359" y="138" width="1" height="36" fill="#ff0000"/><rect x="358" y="144" width="3" height="23" fill="#ff0000"/>
<rect x="359" y="145" width="1" height="21" fill="#ff4500"/>
<rect x="363" y="138" width="1" height="19" fill="#ff0000"/><rect x="362" y="140" width="3" height="5" fill="#ff0000"/>
<rect x="363" y="141" width="1" height="3" fill="#ff4500"/>
<rect x="367" y="131" width="1" height="13" fill="#ff0000"/><rect x="366" y="136" width="3" height="5" fill="#ff0000"/>
<rect x="367" y="137" width="1" height="3" fill="#ff4500"/>
<rect x="371" y="133" width="1" height="11" fill="#32cd32"/><rect x="370" y="136" width="3" height="5" fill="#32cd32"/>
<rect x="375" y="129" width="1" height="31" fill="#ff0000"/><rect x="374" y="131" width="3" height="10" fill="#ff0000"/>
<rect x="375" y="132" width="1" height="8" fill="#ff4500"/>
<rect x="379" y="109" width="1" height="38" fill="#ff0000"/><rect x="378" y="123" width="3" height="9" fill="#ff0000"/>
<rect x="379" y="124" width="1" height="7" fill="#ff4500"/>
<rect x="383" y="121" width="1" height="38" fill="#32cd32"/><rect x="382" y="123" width="3" height="9" fill="#32cd32"/>
<rect x="387" y="87" width="1" height="47" fill="#ff0000"/><rect x="386" y="115" width="3" height="18" fill="#ff0000"/>
<rect x="387" y="116" width="1" height="16" fill="#ff4500"/>
<rect x="391" y="98" width="1" height="22" fill="#32cd32"/><rect x="390" y="115" width="3" height="4" fill="#32cd32"/>
<rect x="395" y="114" width="1" height="15" fill="#32cd32"/><rect x="394" y="117" width="3" height="7" fill="#32cd32"/>
<rect x="399" y="120" width="1" height="42" fill="#32cd32"/><rect x="398" y="123" width="3" height="33" fill="#32cd32"/>
<rect x="403" y="150" width="1" height="24" fill="#32cd32"/><rect x="402" y="155" width="3" height="4" fill="#32cd32"/>
<rect x="407" y="151" width="1" height="49" fill="#ff0000"/><rect x="406" y="158" width="3" height="4" fill="#ff0000"/>
<rect x="407" y="159" width="1" height="2" fill="#ff4500"/>
<rect x="411" y="157" width="1" height="37" fill="#32cd32"/><rect x="410" y="160" width="3" height="18" fill="#32cd32"/>
<rect x="415" y="167" width="1" height="13" fill="#ff0000"/><rect x="414" y="170" width="3" height="8" fill="#ff0000"/>
<rect x="415" y="171" width="1" height="6" fill="#ff4500"/>
<rect x="419" y="170" width="1" height="17" fill="#32cd32"/><rect x="418" y="170" width="3" height="13" fill="#32cd32"/>
<rect x="423" y="175" width="1" height="37" fill="#32cd32"/><rect x="422" y="182" width="3" height="25" fill="#32cd32"/>
<rect x="427" y="183" width="1" height="54" fill="#ff0000"/><rect x="426" y="192" width="3" height="15" fill="#ff0000"/>
<rect x="427" y="193" width="1" height="13" fill="#ff4500"/>
<rect x="431" y="152" width="1" height="49" fill="#ff0000"/><rect x="430" y="157" width="3" height="37" fill="#ff0000"/>
<rect x="431" y="158" width="1" height="35" fill="#ff4500"/>
<rect x="435" y="142" width="1" height="29" fill="#ff0000"/><rect x="434" y="143" width="3" height="15" fill="#ff0000"/>
<rect x="435" y="144" width="1" height="13" fill="#ff4500"/>
<rect x="439" y="148" width="1" height="26" fill="#ff0000"/><rect x="438" y="149" width="3" height="24" fill="#ff0000"/>
<rect x="439" y="150" width="1" height="22" fill="#ff4500"/>
<rect x="443" y="145" width="1" height="12" fill="#ff0000"/><rect x="442" y="148" width="3" height="3" fill="#ff0000"/>
<rect x="443" y="149" width="1" height="1" fill="#ff4500"/>
<rect x="447" y="136" width="1" height="27" fill="#ff0000"/><rect x="446" y="145" width="3" height="5" fill="#ff0000"/>
<rect x="447" y="146" width="1" height="3" fill="#ff4500"/>
<rect x="451" y="118" width="1" height="34" fill="#32cd32"/><rect x="450" y="145" width="3" height="6" fill="#32cd32"/>
<rect x="455" y="136" width="1" height="21" fill="#ff0000"/><rect x="454" y="137" width="3" height="10" fill="#ff0000"/>
<rect x="455" y="138" width="1" height="8" fill="#ff4500"/>
<rect x="459" y="132" width="1" height="32" fill="#32cd32"/><rect x="458" y="137" width="3" height="18" fill="#32cd32"/>
<rect x="463" y="141" width="1" height="15" fill="#ff0000"/><rect x="462" y="144" width="3" height="11" fill="#ff0000"/>
<rect x="463" y="145" width="1" height="9" fill="#ff4500"/>
<rect x="467" y="134" width="1" height="19" fill="#32cd32"/><rect x="466" y="145" width="3" height="7" fill="#32cd32"/>
<rect x="471" y="139" width="1" height="21" fill="#ff0000"/><rect x="470" y="147" width="3" height="6" fill="#ff0000"/>
<rect x="471" y="148" width="1" height="4" fill="#ff4500"/>
<rect x="475" y="143" width="1" height="31" fill="#32cd32"/><rect x="474" y="148" width="3" height="11" fill="#32cd32"/>
<rect x="479" y="151" width="1" height="14" fill="#ff0000"/><rect x="478" y="153" width="3" height="5" fill="#ff0000"/>
<rect x="479" y="154" width="1" height="3" fill="#ff4500"/>
<rect x="483" y="149" width="1" height="17" fill="#32cd32"/><rect x="482" y="152" width="3" height="11" fill="#32cd32"/>
<rect x="487" y="139" width="1" height="75" fill="#32cd32"/><rect x="486" y="151" width="3" height="33" fill="#32cd32"/>
<rect x="491" y="176" width="1" height="36" fill="#ff0000"/><rect x="490" y="179" width="3" height="5" fill="#ff0000"/>
<rect x="491" y="180" width="1" height="3" fill="#ff4500"/>
<rect x="495" y="179" width="1" height="76" fill="#32cd32"/><rect x="494" y="179" width="3" height="76" fill="#32cd32"/>
<rect x="499" y="217" width="1" height="39" fill="#ff0000"/><rect x="498" y="225" width="3" height="31" fill="#ff0000"/>
<rect x="499" y="226" width="1" height="29" fill="#ff4500"/>
<rect x="503" y="203" width="1" height="32" fill="#ff0000"/><rect x="502" y="206" width="3" height="21" fill="#ff0000"/>
<rect x="503" y="207" width="1" height="19" fill="#ff4500"/>
<rect x="507" y="184" width="1" height="30" fill="#ff0000"/><rect x="506" y="194" width="3" height="13" fill="#ff0000"/>
<rect x="507" y="195" width="1" height="11" fill="#ff4500"/>
<rect x="511" y="166" width="1" height="31" fill="#ff0000"/><rect x="510" y="167" width="3" height="28" fill="#ff0000"/>
<rect x="511" y="168" width="1" height="26" fill="#ff4500"/>
<rect x="515" y="165" width="1" height="17" fill="#32cd32"/><rect x="514" y="168" width="3" height="11" fill="#32cd32"/>
<rect x="519" y="162" width="1" height="29" fill="#ff0000"/><rect x="518" y="168" width="3" height="11" fill="#ff0000"/>
<rect x="519" y="169" width="1" height="9" fill="#ff4500"/>
<rect x="523" y="157" width="1" height="22" fill="#ff0000"/><rect x="522" y="167" width="3" height="4" fill="#ff0000"/>
<rect x="523" y="168" width="1" height="2" fill="#ff4500"/>
<rect x="527" y="161" width="1" height="15" fill="#32cd32"/><rect x="526" y="167" width="3" height="4" fill="#32cd32"/>
<rect x="531" y="116" width="1" height="54" fill="#ff0000"/><rect x="530" y="118" width="3" height="51" fill="#ff0000"/>
<rect x="531" y="119" width="1" height="49" fill="#ff4500"/>
<rect x="535" y="116" width="1" height="21" fill="#32cd32"/><rect x="534" y="117" width="3" height="2" fill="#32cd32"/>
<rect x="539" y="104" width="1" height="20" fill="#ff0000"/><rect x="538" y="108" width="3" height="12" fill="#ff0000"/>
<rect x="539" y="109" width="1" height="10" fill="#ff4500"/>
<rect x="543" y="98" width="1" height="36" fill="#32cd32"/><rect x="542" y="108" width="3" height="25" fill="#32cd32"/>
<rect x="547" y="110" width="1" height="27" fill="#32cd32"/><rect x="546" y="119" width="3" height="14" fill="#32cd32"/>
<rect x="551" y="117" width="1" height="30" fill="#32cd32"/><rect x="550" y="119" width="3" height="23" fill="#32cd32"/>
<rect x="555" y="117" width="1" height="30" fill="#ff0000"/><rect x="554" y="133" width="3" height="9" fill="#ff0000"/>
<rect x="555" y="134" width="1" height="7" fill="#ff4500"/>
<rect x="559" y="126" width="1" height="13" fill="#ff0000"/><rect x="558" y="132" width="3" height="4" fill="#ff0000"/>
<rect x="559" y="133" width="1" height="2" fill="#ff4500"/>
<rect x="563" y="88" width="1" height="46" fill="#ff0000"/><rect x="562" y="90" width="3" height="43" fill="#ff0000"/>
<rect x="563" y="91" width="1" height="41" fill="#ff4500"/>
<rect x="567" y="77" width="1" height="26" fill="#ff0000"/><rect x="566" y="83" width="3" height="8" fill="#ff0000"/>
<rect x="567" y="84" width="1" height="6" fill="#ff4500"/>
<rect x="571" y="74" width="1" height="32" fill="#32cd32"/><rect x="570" y="83" width="3" height="5" fill="#32cd32"/>
<rect x="575" y="84" width="1" height="14" fill="#32cd32"/><rect x="574" y="86" width="3" height="8" fill="#32cd32"/>
<rect x="579" y="82" width="1" height="24" fill="#ff0000"/><rect x="578" y="83" width="3" height="11" fill="#ff0000"/>
<rect x="579" y="84" width="1" height="9" fill="#ff4500"/>
<rect x="583" y="68" width="1" height="21" fill="#ff0000"/><rect x="582" y="80" width="3" height="4" fill="#ff0000"/>
<rect x="583" y="81" width="1" height="2" fill="#ff4500"/>
<rect x="587" y="73" width="1" height="12" fill="#32cd32"/><rect x="586" y="80" width="3" height="3" fill="#32cd32"/>
<rect x="591" y="48" width="1" height="39" fill="#ff0000"/><rect x="590" y="69" width="3" height="14" fill="#ff0000"/>
<rect x="591" y="70" width="1" height="12" fill="#ff4500"/>
<rect x="595" y="65" width="1" height="31" fill="#32cd32"/><rect x="594" y="69" width="3" height="12" fill="#32cd32"/>
<rect x="599" y="79" width="1" height="26" fill="#32cd32"/><rect x="598" y="80" width="3" height="16" fill="#32cd32"/>
<rect x="603" y="80" width="1" height="26" fill="#32cd32"/><rect x="602" y="95" width="3" height="6" fill="#32cd32"/>
<rect x="607" y="98" width="1" height="34" fill="#32cd32"/><rect x="606" y="99" width="3" height="22" fill="#32cd32"/>
<rect x="611" y="109" width="1" height="16" fill="#32cd32"/><rect x="610" y="120" width="3" height="3" fill="#32cd32"/>
<rect x="615" y="76" width="1" height="48" fill="#ff0000"/><rect x="614" y="79" width="3" height="44" fill="#ff0000"/>
<rect x="615" y="80" width="1" height="42" fill="#ff4500"/>
<rect x="619" y="76" width="1" height="45" fill="#32cd32"/><rect x="618" y="79" width="3" height="39" fill="#32cd32"/>
<rect x="623" y="102" width="1" height="21" fill="#ff0000"/><rect x="622" y="107" width="3" height="11" fill="#ff0000"/>
<rect x="623" y="108" width="1" height="9" fill="#ff4500"/>
<rect x="627" y="100" width="1" height="50" fill="#32cd32"/><rect x="626" y="107" width="3" height="40" fill="#32cd32"/>
<rect x="631" y="113" width="1" height="38" fill="#ff0000"/><rect x="630" y="122" width="3" height="24" fill="#ff0000"/>
<rect x="631" y="123" width="1" height="22" fill="#ff4500"/>
<rect x="635" y="121" width="1" height="19" fill="#32cd32"/><rect x="634" y="122" width="3" height="16" fill="#32cd32"/>
<rect x="639" y="107" width="1" height="47" fill="#ff0000"/><rect x="638" y="122" width="3" height="17" fill="#ff0000"/>
<rect x="639" y="123" width="1" height="15" fill="#ff4500"/>
<rect x="643" y="120" width="1" height="30" fill="#32cd32"/><rect x="642" y="121" width="3" height="18" fill="#32cd32"/>
<rect x="647" y="125" width="1" height="32" fill="#ff0000"/><rect x="646" y="127" width="3" height="12" fill="#ff0000"/>
<rect x="647" y="128" width="1" height="10" fill="#ff4500"/>
<rect x="651" y="106" width="1" height="35" fill="#32cd32"/><rect x="650" y="126" width="3" height="8" fill="#32cd32"/>
<rect x="655" y="111" width="1" height="28" fill="#ff0000"/><rect x="654" y="125" width="3" height="8" fill="#ff0000"/>
<rect x="655" y="126" width="1" height="6" fill="#ff4500"/>
<rect x="659" y="122" width="1" height="14" fill="#32cd32"/><rect x="658" y="125" width="3" height="5" fill="#32cd32"/>
<rect x="663" y="105" width="1" height="33" fill="#ff0000"/><rect x="662" y="107" width="3" height="23" fill="#ff0000"/>
<rect x="663" y="108" width="1" height="21" fill="#ff4500"/>
<rect x="667" y="96" width="1" height="95" fill="#32cd32"/><rect x="666" y="107" width="3" height="71" fill="#32cd32"/>
<rect x="671" y="166" width="1" height="17" fill="#ff0000"/><rect x="670" y="169" width="3" height="9" fill="#ff0000"/>
<rect x="671" y="170" width="1" height="7" fill="#ff4500"/>
<rect x="675" y="165" width="1" height="45" fill="#32cd32"/><rect x="674" y="168" width="3" height="36" fill="#32cd32"/>
<rect x="679" y="198" width="1" height="17" fill="#ff0000"/><rect x="678" y="201" width="3" height="10" fill="#ff0000"/>
<rect x="679" y="202" width="1" height="8" fill="#ff4500"/>
<rect x="683" y="191" width="1" height="14" fill="#ff0000"/><rect x="682" y="197" width="3" height="6" fill="#ff0000"/>
<rect x="683" y="198" width="1" height="4" fill="#ff4500"/>
<rect x="687" y="196" width="1" height="53" fill="#32cd32"/><rect x="686" y="197" width="3" height="39" fill="#32cd32"/>
<rect x="691" y="228" width="1" height="24" fill="#32cd32"/><rect x="690" y="235" width="3" height="14" fill="#32cd32"/>
<rect x="695" y="247" width="1" height="38" fill="#32cd32"/><rect x="694" y="247" width="3" height="24" fill="#32cd32"/>
<rect x="699" y="264" width="1" height="25" fill="#32cd32"/><rect x="698" y="270" width="3" height="5" fill="#32cd32"/>
<rect x="703" y="270" width="1" height="22" fill="#32cd32"/><rect x="702" y="274" width="3" height="16" fill="#32cd32"/>
<rect x="707" y="279" width="1" height="15" fill="#ff0000"/><rect x="706" y="286" width="3" height="3" fill="#ff0000"/>
<rect x="707" y="287" width="1" height="1" fill="#ff4500"/>
<rect x="711" y="277" width="1" height="30" fill="#ff0000"/><rect x="710" y="284" width="3" height="4" fill="#ff0000"/>
<rect x="711" y="285" width="1" height="2" fill="#ff4500"/>
<rect x="715" y="266" width="1" height="35" fill="#ff0000"/><rect x="714" y="277" width="3" height="8" fill="#ff0000"/>
<rect x="715" y="278" width="1" height="6" fill="#ff4500"/>
<rect x="719" y="260" width="1" height="20" fill="#ff0000"/><rect x="718" y="273" width="3" height="6" fill="#ff0000"/>
<rect x="719" y="274" width="1" height="4" fill="#ff4500"/>
<rect x="723" y="248" width="1" height="29" fill="#ff0000"/><rect x="722" y="259" width="3" height="17" fill="#ff0000"/>
<rect x="723" y="260" width="1" height="15" fill="#ff4500"/>
<rect x="727" y="252" width="1" height="13" fill="#32cd32"/><rect x="726" y="258" width="3" height="5" fill="#32cd32"/>
<rect x="731" y="259" width="1" height="20" fill="#32cd32"/><rect x="730" y="262" width="3" height="9" fill="#32cd32"/>
<rect x="735" y="251" width="1" height="25" fill="#ff0000"/><rect x="734" y="252" width="3" height="18" fill="#ff0000"/>
<rect x="735" y="253" width="1" height="16" fill="#ff4500"/>
<rect x="739" y="250" width="1" height="35" fill="#32cd32"/><rect x="738" y="252" width="3" height="4" fill="#32cd32"/>
<rect x="743" y="252" width="1" height="22" fill="#ff0000"/><rect x="742" y="253" width="3" height="3" fill="#ff0000"/>
<rect x="743" y="254" width="1" height="1" fill="#ff4500"/>
<rect x="747" y="247" width="1" height="20" fill="#32cd32"/><rect x="746" y="253" width="3" height="12" fill="#32cd32"/>
<rect x="751" y="260" width="1" height="15" fill="#32cd32"/><rect x="750" y="264" width="3" height="7" fill="#32cd32"/>
<rect x="755" y="264" width="1" height="16" fill="#32cd32"/><rect x="754" y="269" width="3" height="6" fill="#32cd32"/>
<rect x="759" y="263" width="1" height="29" fill="#ff0000"/><rect x="758" y="264" width="3" height="11" fill="#ff0000"/>
<rect x="759" y="265" width="1" height="9" fill="#ff4500"/>
<rect x="763" y="251" width="1" height="22" fill="#ff0000"/><rect x="762" y="260" width="3" height="7" fill="#ff0000"/>
<rect x="763" y="261" width="1" height="5" fill="#ff4500"/>
<rect x="767" y="253" width="1" height="14" fill="#32cd32"/><rect x="766" y="260" width="3" height="3" fill="#32cd32"/>
<rect x="771" y="251" width="1" height="23" fill="#32cd32"/><rect x="770" y="262" width="3" height="6" fill="#32cd32"/>
<rect x="775" y="255" width="1" height="18" fill="#32cd32"/><rect x="774" y="267" width="3" height="3" fill="#32cd32"/>
<rect x="779" y="264" width="1" height="12" fill="#ff0000"/><rect x="778" y="265" width="3" height="5" fill="#ff0000"/>
<rect x="779" y="266" width="1" height="3" fill="#ff4500"/>
<rect x="783" y="232" width="1" height="45" fill="#ff0000"/><rect x="782" y="233" width="3" height="34" fill="#ff0000"/>
<rect x="783" y="234" width="1" height="32" fill="#ff4500"/>
<rect x="787" y="222" width="1" height="28" fill="#ff0000"/><rect x="786" y="232" width="3" height="3" fill="#ff0000"/>
<rect x="787" y="233" width="1" height="1" fill="#ff4500"/>
<rect x="791" y="227" width="1" height="18" fill="#ff0000"/><rect x="790" y="229" width="3" height="4" fill="#ff0000"/>
<rect x="791" y="230" width="1" height="2" fill="#ff4500"/>
<rect x="795" y="222" width="1" height="12" fill="#32cd32"/><rect x="794" y="228" width="3" height="2" fill="#32cd32"/>
<rect x="799" y="218" width="1" height="21" fill="#ff0000"/><rect x="798" y="218" width="3" height="19" fill="#ff0000"/>
<rect x="799" y="219" width="1" height="17" fill="#ff4500"/>
<rect x="803" y="218" width="1" height="22" fill="#32cd32"/><rect x="802" y="218" width="3" height="18" fill="#32cd32"/>
<rect x="807" y="230" width="1" height="24" fill="#32cd32"/><rect x="806" y="235" width="3" height="4" fill="#32cd32"/>
<rect x="811" y="213" width="1" height="28" fill="#ff0000"/><rect x="810" y="213" width="3" height="26" fill="#ff0000"/>
<rect x="811" y="214" width="1" height="24" fill="#ff4500"/>
<rect x="815" y="207" width="1" height="11" fill="#ff0000"/><rect x="814" y="213" width="3" height="3" fill="#ff0000"/>
<rect x="815" y="214" width="1" height="1" fill="#ff4500"/>
<rect x="819" y="208" width="1" height="20" fill="#ff0000"/><rect x="818" y="210" width="3" height="5" fill="#ff0000"/>
<rect x="819" y="211" width="1" height="3" fill="#ff4500"/>
<rect x="823" y="209" width="1" height="20" fill="#32cd32"/><rect x="822" y="210" width="3" height="9" fill="#32cd32"/>
<rect x="827" y="210" width="1" height="21" fill="#ff0000"/><rect x="826" y="215" width="3" height="3" fill="#ff0000"/>
<rect x="827" y="216" width="1" height="1" fill="#ff4500"/>
<rect x="831" y="195" width="1" height="26" fill="#ff0000"/><rect x="830" y="203" width="3" height="13" fill="#ff0000"/>
<rect x="831" y="204" width="1" height="11" fill="#ff4500"/>
<rect x="835" y="199" width="1" height="30" fill="#32cd32"/><rect x="834" y="203" width="3" height="5" fill="#32cd32"/>
<rect x="839" y="202" width="1" height="17" fill="#32cd32"/><rect x="838" y="206" width="3" height="7" fill="#32cd32"/>
<rect x="843" y="198" width="1" height="26" fill="#32cd32"/><rect x="842" y="211" width="3" height="6" fill="#32cd32"/>
<rect x="847" y="206" width="1" height="17" fill="#ff0000"/><rect x="846" y="208" width="3" height="9" fill="#ff0000"/>
<rect x="847" y="209" width="1" height="7" fill="#ff4500"/>
<rect x="851" y="205" width="1" height="12" fill="#32cd32"/><rect x="850" y="208" width="3" height="7" fill="#32cd32"/>
<rect x="855" y="196" width="1" height="25" fill="#32cd32"/><rect x="854" y="214" width="3" height="6" fill="#32cd32"/>
<rect x="859" y="204" width="1" height="20" fill="#ff0000"/><rect x="858" y="209" width="3" height="11" fill="#ff0000"/>
<rect x="859" y="210" width="1" height="9" fill="#ff4500"/>
<rect x="863" y="192" width="1" height="20" fill="#ff0000"/><rect x="862" y="195" width="3" height="16" fill="#ff0000"/>
<rect x="863" y="196" width="1" height="14" fill="#ff4500"/>
<rect x="867" y="194" width="1" height="94" fill="#32cd32"/><rect x="866" y="194" width="3" height="87" fill="#32cd32"/>
<rect x="871" y="273" width="1" height="13" fill="#32cd32"/><rect x="870" y="281" width="3" height="4" fill="#32cd32"/>
<rect x="875" y="281" width="1" height="17" fill="#ff0000"/><rect x="874" y="282" width="3" height="3" fill="#ff0000"/>
<rect x="875" y="283" width="1" height="1" fill="#ff4500"/>
<rect x="879" y="243" width="1" height="51" fill="#ff0000"/><rect x="878" y="243" width="3" height="41" fill="#ff0000"/>
<rect x="879" y="244" width="1" height="39" fill="#ff4500"/>
<rect x="883" y="229" width="1" height="43" fill="#32cd32"/><rect x="882" y="243" width="3" height="3" fill="#32cd32"/>
<rect x="887" y="229" width="1" height="20" fill="#32cd32"/><rect x="886" y="245" width="3" height="3" fill="#32cd32"/>
<rect x="891" y="226" width="1" height="27" fill="#ff0000"/><rect x="890" y="242" width="3" height="6" fill="#ff0000"/>
<rect x="891" y="243" width="1" height="4" fill="#ff4500"/>
<rect x="895" y="235" width="1" height="26" fill="#32cd32"/><rect x="894" y="242" width="3" height="8" fill="#32cd32"/>
<rect x="899" y="234" width="1" height="18" fill="#ff0000"/><rect x="898" y="238" width="3" height="13" fill="#ff0000"/>
<rect x="899" y="239" width="1" height="11" fill="#ff4500"/>
<rect x="903" y="235" width="1" height="22" fill="#ff0000"/><rect x="902" y="236" width="3" height="3" fill="#ff0000"/>
<rect x="903" y="237" width="1" height="1" fill="#ff4500"/>
<rect x="907" y="203" width="1" height="36" fill="#ff0000"/><rect x="906" y="208" width="3" height="30" fill="#ff0000"/>
<rect x="907" y="209" width="1" height="28" fill="#ff4500"/>
<rect x="911" y="194" width="1" height="26" fill="#32cd32"/><rect x="910" y="208" width="3" height="3" fill="#32cd32"/>
<rect x="915" y="199" width="1" height="20" fill="#ff0000"/><rect x="914" y="203" width="3" height="8" fill="#ff0000"/>
<rect x="915" y="204" width="1" height="6" fill="#ff4500"/>
<rect x="919" y="205" width="1" height="25" fill="#32cd32"/><rect x="918" y="206" width="3" height="23" fill="#32cd32"/>
<rect x="923" y="221" width="1" height="11" fill="#ff0000"/><rect x="922" y="226" width="3" height="3" fill="#ff0000"/>
<rect x="923" y="227" width="1" height="1" fill="#ff4500"/>
<rect x="927" y="211" width="1" height="31" fill="#ff0000"/><rect x="926" y="211" width="3" height="18" fill="#ff0000"/>
<rect x="927" y="212" width="1" height="16" fill="#ff4500"/>
<rect x="931" y="204" width="1" height="32" fill="#32cd32"/><rect x="930" y="211" width="3" height="24" fill="#32cd32"/>
<rect x="935" y="219" width="1" height="22" fill="#ff0000"/><rect x="934" y="220" width="3" height="15" fill="#ff0000"/>
<rect x="935" y="221" width="1" height="13" fill="#ff4500"/>
<rect x="939" y="210" width="1" height="18" fill="#ff0000"/><rect x="938" y="211" width="3" height="10" fill="#ff0000"/>
<rect x="939" y="212" width="1" height="8" fill="#ff4500"/>
<rect x="943" y="211" width="1" height="30" fill="#32cd32"/><rect x="942" y="211" width="3" height="30" fill="#32cd32"/>
<rect x="947" y="235" width="1" height="17" fill="#32cd32"/><rect x="946" y="239" width="3" height="9" fill="#32cd32"/>
<rect x="951" y="242" width="1" height="40" fill="#32cd32"/><rect x="950" y="246" width="3" height="22" fill="#32cd32"/>
<rect x="955" y="243" width="1" height="33" fill="#ff0000"/><rect x="954" y="250" width="3" height="18" fill="#ff0000"/>
<rect x="955" y="251" width="1" height="16" fill="#ff4500"/>
<rect x="959" y="230" width="1" height="25" fill="#ff0000"/><rect x="958" y="231" width="3" height="23" fill="#ff0000"/>
<rect x="959" y="232" width="1" height="21" fill="#ff4500"/>
<rect x="963" y="210" width="1" height="28" fill="#ff0000"/><rect x="962" y="230" width="3" height="3" fill="#ff0000"/>
<rect x="963" y="231" width="1" height="1" fill="#ff4500"/>
<rect x="967" y="208" width="1" height="23" fill="#ff0000"/><rect x="966" y="209" width="3" height="22" fill="#ff0000"/>
<rect x="967" y="210" width="1" height="20" fill="#ff4500"/>
<rect x="971" y="193" width="1" height="19" fill="#ff0000"/><rect x="970" y="206" width="3" height="5" fill="#ff0000"/>
<rect x="971" y="207" width="1" height="3" fill="#ff4500"/>
<rect x="975" y="198" width="1" height="26" fill="#32cd32"/><rect x="974" y="206" width="3" height="17" fill="#32cd32"/>
<rect x="979" y="200" width="1" height="35" fill="#ff0000"/><rect x="978" y="201" width="3" height="22" fill="#ff0000"/>
<rect x="979" y="202" width="1" height="20" fill="#ff4500"/>
<rect x="983" y="191" width="1" height="30" fill="#32cd32"/><rect x="982" y="201" width="3" height="20" fill="#32cd32"/>
<rect x="987" y="217" width="1" height="18" fill="#32cd32"/><rect x="986" y="220" width="3" height="7" fill="#32cd32"/>
<rect x="991" y="223" width="1" height="22" fill="#32cd32"/><rect x="990" y="225" width="3" height="14" fill="#32cd32"/>
<rect x="995" y="227" width="1" height="24" fill="#ff0000"/><rect x="994" y="231" width="3" height="8" fill="#ff0000"/>
<rect x="995" y="232" width="1" height="6" fill="#ff4500"/>
<rect x="999" y="211" width="1" height="26" fill="#ff0000"/><rect x="998" y="220" width="3" height="13" fill="#ff0000"/>
<rect x="999" y="221" width="1" height="11" fill="#ff4500"/>
<rect x="1003" y="220" width="1" height="92" fill="#32cd32"/><rect x="1002" y="220" width="3" height="90" fill="#32cd32"/>
<rect x="1007" y="293" width="1" height="32" fill="#ff0000"/><rect x="1006" y="294" width="3" height="15" fill="#ff0000"/>
<rect x="1007" y="295" width="1" height="13" fill="#ff4500"/>
<rect x="1011" y="276" width="1" height="25" fill="#ff0000"/><rect x="1010" y="280" width="3" height="16" fill="#ff0000"/>
<rect x="1011" y="281" width="1" height="14" fill="#ff4500"/>
<rect x="1015" y="271" width="1" height="23" fill="#32cd32"/><rect x="1014" y="279" width="3" height="8" fill="#32cd32"/>
<rect x="1019" y="281" width="1" height="13" fill="#32cd32"/><rect x="1018" y="285" width="3" height="2" fill="#32cd32"/>
<rect x="1023" y="268" width="1" height="21" fill="#ff0000"/><rect x="1022" y="272" width="3" height="16" fill="#ff0000"/>
<rect x="1023" y="273" width="1" height="14" fill="#ff4500"/>
<rect x="1027" y="270" width="1" height="43" fill="#32cd32"/><rect x="1026" y="272" width="3" height="18" fill="#32cd32"/>
<rect x="1031" y="282" width="1" height="19" fill="#32cd32"/><rect x="1030" y="288" width="3" height="8" fill="#32cd32"/>
<rect x="1035" y="290" width="1" height="41" fill="#32cd32"/><rect x="1034" y="295" width="3" height="34" fill="#32cd32"/>
<rect x="1039" y="307" width="1" height="20" fill="#32cd32"/><rect x="1038" y="314" width="3" height="8" fill="#32cd32"/>
</g>
<rect x="962" y="189" width="227" height="2" fill="#ff0000" shape-rendering="crispEdges"/>
<rect x="986" y="266" width="205" height="2" fill="#00ff00" shape-rendering="crispEdges"/>
<g clip-path="url(#cs)" shape-rendering="crispEdges">
<rect x="7" y="418" width="1" height="35" fill="#c0c0c0"/>
<rect x="11" y="423" width="1" height="30" fill="#c0c0c0"/>
<rect x="15" y="425" width="1" height="28" fill="#c0c0c0"/>
<rect x="19" y="427" width="1" height="26" fill="#c0c0c0"/>
<rect x="23" y="430" width="1" height="23" fill="#c0c0c0"/>
<rect x="27" y="435" width="1" height="18" fill="#c0c0c0"/>
<rect x="31" y="447" width="1" height="6" fill="#c0c0c0"/>
<rect x="35" y="452" width="1" height="4" fill="#c0c0c0"/>
<rect x="39" y="452" width="1" height="5" fill="#c0c0c0"/>
<rect x="43" y="452" width="1" height="7" fill="#c0c0c0"/>
<rect x="47" y="452" width="1" height="5" fill="#c0c0c0"/>
<rect x="51" y="452" width="1" height="5" fill="#c0c0c0"/>
<rect x="55" y="452" width="1" height="4" fill="#c0c0c0"/>
<rect x="59" y="452" width="1" height="4" fill="#c0c0c0"/>
<rect x="63" y="452" width="1" height="1" fill="#c0c0c0"/>
<rect x="67" y="450" width="1" height="3" fill="#c0c0c0"/>
<rect x="71" y="449" width="1" height="4" fill="#c0c0c0"/>
<rect x="75" y="448" width="1" height="5" fill="#c0c0c0"/>
<rect x="79" y="449" width="1" height="4" fill="#c0c0c0"/>
<rect x="83" y="450" width="1" height="3" fill="#c0c0c0"/>
<rect x="87" y="452" width="1" height="10" fill="#c0c0c0"/>
<rect x="91" y="452" width="1" height="13" fill="#c0c0c0"/>
<rect x="95" y="452" width="1" height="18" fill="#c0c0c0"/>
<rect x="99" y="452" width="1" height="20" fill="#c0c0c0"/>
<rect x="103" y="452" width="1" height="21" fill="#c0c0c0"/>
<rect x="107" y="452" width="1" height="18" fill="#c0c0c0"/>
<rect x="111" y="452" width="1" height="16" fill="#c0c0c0"/>
<rect x="115" y="452" width="1" height="14" fill="#c0c0c0"/>
<rect x="119" y="452" width="1" height="12" fill="#c0c0c0"/>
<rect x="123" y="452" width="1" height="9" fill="#c0c0c0"/>
<rect x="127" y="452" width="1" height="5" fill="#c0c0c0"/>
<rect x="131" y="452" width="1" height="1" fill="#c0c0c0"/>
<rect x="135" y="446" width="1" height="7" fill="#c0c0c0"/>
<rect x="139" y="442" width="1" height="11" fill="#c0c0c0"/>
<rect x="143" y="438" width="1" height="15" fill="#c0c0c0"/>
<rect x="147" y="431" width="1" height="22" fill="#c0c0c0"/>
<rect x="151" y="426" width="1" height="27" fill="#c0c0c0"/>
<rect x="155" y="421" width="1" height="32" fill="#c0c0c0"/>
<rect x="159" y="422" width="1" height="31" fill="#c0c0c0"/>
<rect x="163" y="418" width="1" height="35" fill="#c0c0c0"/>
<rect x="167" y="419" width="1" height="34" fill="#c0c0c0"/>
<rect x="171" y="416" width="1" height="37" fill="#c0c0c0"/>
<rect x="175" y="412" width="1" height="41" fill="#c0c0c0"/>
<rect x="179" y="410" width="1" height="43" fill="#c0c0c0"/>
<rect x="183" y="412" width="1" height="41" fill="#c0c0c0"/>
<rect x="187" y="413" width="1" height="40" fill="#c0c0c0"/>
<rect x="191" y="411" width="1" height="42" fill="#c0c0c0"/>
<rect x="195" y="410" width="1" height="43" fill="#c0c0c0"/>
<rect x="199" y="410" width="1" height="43" fill="#c0c0c0"/>
<rect x="203" y="413" width="1" height="40" fill="#c0c0c0"/>
<rect x="207" y="412" width="1" height="41" fill="#c0c0c0"/>
<rect x="211" y="414" width="1" height="39" fill="#c0c0c0"/>
<rect x="215" y="416" width="1" height="37" fill="#c0c0c0"/>
<rect x="219" y="418" width="1" height="35" fill="#c0c0c0"/>
<rect x="223" y="420" width="1" height="33" fill="#c0c0c0"/>
<rect x="227" y="422" width="1" height="31" fill="#c0c0c0"/>
<rect x="231" y="428" width="1" height="25" fill="#c0c0c0"/>
<rect x="235" y="432" width="1" height="21" fill="#c0c0c0"/>
<rect x="239" y="437" width="1" height="16" fill="#c0c0c0"/>
<rect x="243" y="438" width="1" height="15" fill="#c0c0c0"/>
<rect x="247" y="439" width="1" height="14" fill="#c0c0c0"/>
<rect x="251" y="440" width="1" height="13" fill="#c0c0c0"/>
<rect x="255" y="438" width="1" height="15" fill="#c0c0c0"/>
<rect x="259" y="434" width="1" height="19" fill="#c0c0c0"/>
<rect x="263" y="431" width="1" height="22" fill="#c0c0c0"/>
<rect x="267" y="431" width="1" height="22" fill="#c0c0c0"/>
<rect x="271" y="434" width="1" height="19" fill="#c0c0c0"/>
<rect x="275" y="436" width="1" height="17" fill="#c0c0c0"/>
<rect x="279" y="433" width="1" height="20" fill="#c0c0c0"/>
<rect x="283" y="426" width="1" height="27" fill="#c0c0c0"/>
<rect x="287" y="421" width="1" height="32" fill="#c0c0c0"/>
<rect x="291" y="420" width="1" height="33" fill="#c0c0c0"/>
<rect x="295" y="418" width="1" height="35" fill="#c0c0c0"/>
<rect x="299" y="417" width="1" height="36" fill="#c0c0c0"/>
<rect x="303" y="415" width="1" height="38" fill="#c0c0c0"/>
<rect x="307" y="415" width="1" height="38" fill="#c0c0c0"/>
<rect x="311" y="421" width="1" height="32" fill="#c0c0c0"/>
<rect x="315" y="427" width="1" height="26" fill="#c0c0c0"/>
<rect x="319" y="429" width="1" height="24" fill="#c0c0c0"/>
<rect x="323" y="432" width="1" height="21" fill="#c0c0c0"/>
<rect x="327" y="431" width="1" height="22" fill="#c0c0c0"/>
<rect x="331" y="430" width="1" height="23" fill="#c0c0c0"/>
<rect x="335" y="429" width="1" height="24" fill="#c0c0c0"/>
<rect x="339" y="426" width="1" height="27" fill="#c0c0c0"/>
<rect x="343" y="423" width="1" height="30" fill="#c0c0c0"/>
<rect x="347" y="422" width="1" height="31" fill="#c0c0c0"/>
<rect x="351" y="420" width="1" height="33" fill="#c0c0c0"/>
<rect x="355" y="418" width="1" height="35" fill="#c0c0c0"/>
<rect x="359" y="413" width="1" height="40" fill="#c0c0c0"/>
<rect x="363" y="409" width="1" height="44" fill="#c0c0c0"/>
<rect x="367" y="406" width="1" height="47" fill="#c0c0c0"/>
<rect x="371" y="404" width="1" height="49" fill="#c0c0c0"/>
<rect x="375" y="402" width="1" height="51" fill="#c0c0c0"/>
<rect x="379" y="400" width="1" height="53" fill="#c0c0c0"/>
<rect x="383" y="400" width="1" height="53" fill="#c0c0c0"/>
<rect x="387" y="398" width="1" height="55" fill="#c0c0c0"/>
<rect x="391" y="397" width="1" height="56" fill="#c0c0c0"/>
<rect x="395" y="398" width="1" height="55" fill="#c0c0c0"/>
<rect x="399" y="405" width="1" height="48" fill="#c0c0c0"/>
<rect x="403" y="411" width="1" height="42" fill="#c0c0c0"/>
<rect x="407" y="417" width="1" height="36" fill="#c0c0c0"/>
<rect x="411" y="425" width="1" height="28" fill="#c0c0c0"/>
<rect x="415" y="430" width="1" height="23" fill="#c0c0c0"/>
<rect x="419" y="437" width="1" height="16" fill="#c0c0c0"/>
<rect x="423" y="446" width="1" height="7" fill="#c0c0c0"/>
<rect x="427" y="451" width="1" height="2" fill="#c0c0c0"/>
<rect x="431" y="449" width="1" height="4" fill="#c0c0c0"/>
<rect x="435" y="445" width="1" height="8" fill="#c0c0c0"/>
<rect x="439" y="443" width="1" height="10" fill="#c0c0c0"/>
<rect x="443" y="441" width="1" height="12" fill="#c0c0c0"/>
<rect x="447" y="440" width="1" height="13" fill="#c0c0c0"/>
<rect x="451" y="439" width="1" height="14" fill="#c0c0c0"/>
<rect x="455" y="437" width="1" height="16" fill="#c0c0c0"/>
<rect x="459" y="438" width="1" height="15" fill="#c0c0c0"/>
<rect x="463" y="438" width="1" height="15" fill="#c0c0c0"/>
<rect x="467" y="439" width="1" height="14" fill="#c0c0c0"/>
<rect x="471" y="439" width="1" height="14" fill="#c0c0c0"/>
<rect x="475" y="441" width="1" height="12" fill="#c0c0c0"/>
<rect x="479" y="442" width="1" height="11" fill="#c0c0c0"/>
<rect x="483" y="444" width="1" height="9" fill="#c0c0c0"/>
<rect x="487" y="450" width="1" height="3" fill="#c0c0c0"/>
<rect x="491" y="452" width="1" height="2" fill="#c0c0c0"/>
<rect x="495" y="452" width="1" height="18" fill="#c0c0c0"/>
<rect x="499" y="452" width="1" height="25" fill="#c0c0c0"/>
<rect x="503" y="452" width="1" height="27" fill="#c0c0c0"/>
<rect x="507" y="452" width="1" height="26" fill="#c0c0c0"/>
<rect x="511" y="452" width="1" height="21" fill="#c0c0c0"/>
<rect x="515" y="452" width="1" height="18" fill="#c0c0c0"/>
<rect x="519" y="452" width="1" height="14" fill="#c0c0c0"/>
<rect x="523" y="452" width="1" height="11" fill="#c0c0c0"/>
<rect x="527" y="452" width="1" height="9" fill="#c0c0c0"/>
<rect x="531" y="449" width="1" height="4" fill="#c0c0c0"/>
<rect x="535" y="441" width="1" height="12" fill="#c0c0c0"/>
<rect x="539" y="433" width="1" height="20" fill="#c0c0c0"/>
<rect x="543" y="431" width="1" height="22" fill="#c0c0c0"/>
<rect x="547" y="429" width="1" height="24" fill="#c0c0c0"/>
<rect x="551" y="430" width="1" height="23" fill="#c0c0c0"/>
<rect x="555" y="430" width="1" height="23" fill="#c0c0c0"/>
<rect x="559" y="429" width="1" height="24" fill="#c0c0c0"/>
<rect x="563" y="422" width="1" height="31" fill="#c0c0c0"/>
<rect x="567" y="416" width="1" height="37" fill="#c0c0c0"/>
<rect x="571" y="412" width="1" height="41" fill="#c0c0c0"/>
<rect x="575" y="410" width="1" height="43" fill="#c0c0c0"/>
<rect x="579" y="408" width="1" height="45" fill="#c0c0c0"/>
<rect x="583" y="406" width="1" height="47" fill="#c0c0c0"/>
<rect x="587" y="405" width="1" height="48" fill="#c0c0c0"/>
<rect x="591" y="403" width="1" height="50" fill="#c0c0c0"/>
<rect x="595" y="404" width="1" height="49" fill="#c0c0c0"/>
<rect x="599" y="407" width="1" height="46" fill="#c0c0c0"/>
<rect x="603" y="412" width="1" height="41" fill="#c0c0c0"/>
<rect x="607" y="419" width="1" height="34" fill="#c0c0c0"/>
<rect x="611" y="425" width="1" height="28" fill="#c0c0c0"/>
<rect x="615" y="423" width="1" height="30" fill="#c0c0c0"/>
<rect x="619" y="428" width="1" height="25" fill="#c0c0c0"/>
<rect x="623" y="431" width="1" height="22" fill="#c0c0c0"/>
<rect x="627" y="440" width="1" height="13" fill="#c0c0c0"/>
<rect x="631" y="443" width="1" height="10" fill="#c0c0c0"/>
<rect x="635" y="448" width="1" height="5" fill="#c0c0c0"/>
<rect x="639" y="449" width="1" height="4" fill="#c0c0c0"/>
<rect x="643" y="452" width="1" height="2" fill="#c0c0c0"/>
<rect x="647" y="452" width="1" height="3" fill="#c0c0c0"/>
<rect x="651" y="452" width="1" height="5" fill="#c0c0c0"/>
<rect x="655" y="452" width="1" height="5" fill="#c0c0c0"/>
<rect x="659" y="452" width="1" height="6" fill="#c0c0c0"/>
<rect x="663" y="452" width="1" height="3" fill="#c0c0c0"/>
<rect x="667" y="452" width="1" height="12" fill="#c0c0c0"/>
<rect x="671" y="452" width="1" height="18" fill="#c0c0c0"/>
<rect x="675" y="452" width="1" height="28" fill="#c0c0c0"/>
<rect x="679" y="452" width="1" height="35" fill="#c0c0c0"/>
<rect x="683" y="452" width="1" height="39" fill="#c0c0c0"/>
<rect x="687" y="452" width="1" height="49" fill="#c0c0c0"/>
<rect x="691" y="452" width="1" height="58" fill="#c0c0c0"/>
<rect x="695" y="452" width="1" height="68" fill="#c0c0c0"/>
<rect x="699" y="452" width="1" height="76" fill="#c0c0c0"/>
<rect x="703" y="452" width="1" height="84" fill="#c0c0c0"/>
<rect x="707" y="452" width="1" height="89" fill="#c0c0c0"/>
<rect x="711" y="452" width="1" height="91" fill="#c0c0c0"/>
<rect x="715" y="452" width="1" height="91" fill="#c0c0c0"/>
<rect x="719" y="452" width="1" height="89" fill="#c0c0c0"/>
<rect x="723" y="452" width="1" height="84" fill="#c0c0c0"/>
<rect x="727" y="452" width="1" height="79" fill="#c0c0c0"/>
<rect x="731" y="452" width="1" height="77" fill="#c0c0c0"/>
<rect x="735" y="452" width="1" height="70" fill="#c0c0c0"/>
<rect x="739" y="452" width="1" height="65" fill="#c0c0c0"/>
<rect x="743" y="452" width="1" height="60" fill="#c0c0c0"/>
<rect x="747" y="452" width="1" height="57" fill="#c0c0c0"/>
<rect x="751" y="452" width="1" height="56" fill="#c0c0c0"/>
<rect x="755" y="452" width="1" height="54" fill="#c0c0c0"/>
<rect x="759" y="452" width="1" height="51" fill="#c0c0c0"/>
<rect x="763" y="452" width="1" height="47" fill="#c0c0c0"/>
<rect x="767" y="452" width="1" height="44" fill="#c0c0c0"/>
<rect x="771" y="452" width="1" height="41" fill="#c0c0c0"/>
<rect x="775" y="452" width="1" height="40" fill="#c0c0c0"/>
<rect x="779" y="452" width="1" height="37" fill="#c0c0c0"/>
<rect x="783" y="452" width="1" height="29" fill="#c0c0c0"/>
<rect x="787" y="452" width="1" height="23" fill="#c0c0c0"/>
<rect x="791" y="452" width="1" height="17" fill="#c0c0c0"/>
<rect x="795" y="452" width="1" height="12" fill="#c0c0c0"/>
<rect x="799" y="452" width="1" height="6" fill="#c0c0c0"/>
<rect x="803" y="452" width="1" height="5" fill="#c0c0c0"/>
<rect x="807" y="452" width="1" height="4" fill="#c0c0c0"/>
<rect x="811" y="450" width="1" height="3" fill="#c0c0c0"/>
<rect x="815" y="446" width="1" height="7" fill="#c0c0c0"/>
<rect x="819" y="442" width="1" height="11" fill="#c0c0c0"/>
<rect x="823" y="441" width="1" height="12" fill="#c0c0c0"/>
<rect x="827" y="440" width="1" height="13" fill="#c0c0c0"/>
<rect x="831" y="437" width="1" height="16" fill="#c0c0c0"/>
<rect x="835" y="435" width="1" height="18" fill="#c0c0c0"/>
<rect x="839" y="435" width="1" height="18" fill="#c0c0c0"/>
<rect x="843" y="436" width="1" height="17" fill="#c0c0c0"/>
<rect x="847" y="436" width="1" height="17" fill="#c0c0c0"/>
<rect x="851" y="436" width="1" height="17" fill="#c0c0c0"/>
<rect x="855" y="438" width="1" height="15" fill="#c0c0c0"/>
<rect x="859" y="438" width="1" height="15" fill="#c0c0c0"/>
<rect x="863" y="435" width="1" height="18" fill="#c0c0c0"/>
<rect x="867" y="448" width="1" height="5" fill="#c0c0c0"/>
<rect x="871" y="452" width="1" height="7" fill="#c0c0c0"/>
<rect x="875" y="452" width="1" height="15" fill="#c0c0c0"/>
<rect x="879" y="452" width="1" height="15" fill="#c0c0c0"/>
<rect x="883" y="452" width="1" height="15" fill="#c0c0c0"/>
<rect x="887" y="452" width="1" height="15" fill="#c0c0c0"/>
<rect x="891" y="452" width="1" height="13" fill="#c0c0c0"/>
<rect x="895" y="452" width="1" height="14" fill="#c0c0c0"/>
<rect x="899" y="452" width="1" height="12" fill="#c0c0c0"/>
<rect x="903" y="452" width="1" height="10" fill="#c0c0c0"/>
<rect x="907" y="452" width="1" height="4" fill="#c0c0c0"/>
<rect x="911" y="450" width="1" height="3" fill="#c0c0c0"/>
<rect x="915" y="445" width="1" height="8" fill="#c0c0c0"/>
<rect x="919" y="446" width="1" height="7" fill="#c0c0c0"/>
<rect x="923" y="446" width="1" height="7" fill="#c0c0c0"/>
<rect x="927" y="444" width="1" height="9" fill="#c0c0c0"/>
<rect x="931" y="446" width="1" height="7" fill="#c0c0c0"/>
<rect x="935" y="445" width="1" height="8" fill="#c0c0c0"/>
<rect x="939" y="443" width="1" height="10" fill="#c0c0c0"/>
<rect x="943" y="447" width="1" height="6" fill="#c0c0c0"/>
<rect x="947" y="451" width="1" height="2" fill="#c0c0c0"/>
<rect x="951" y="452" width="1" height="6" fill="#c0c0c0"/>
<rect x="955" y="452" width="1" height="8" fill="#c0c0c0"/>
<rect x="959" y="452" width="1" height="7" fill="#c0c0c0"/>
<rect x="963" y="452" width="1" height="5" fill="#c0c0c0"/>
<rect x="967" y="452" width="1" height="1" fill="#c0c0c0"/>
<rect x="971" y="447" width="1" height="6" fill="#c0c0c0"/>
<rect x="975" y="447" width="1" height="6" fill="#c0c0c0"/>
<rect x="979" y="443" width="1" height="10" fill="#c0c0c0"/>
<rect x="983" y="443" width="1" height="10" fill="#c0c0c0"/>
<rect x="987" y="444" width="1" height="9" fill="#c0c0c0"/>
<rect x="991" y="447" width="1" height="6" fill="#c0c0c0"/>
<rect x="995" y="449" width="1" height="4" fill="#c0c0c0"/>
<rect x="999" y="448" width="1" height="5" fill="#c0c0c0"/>
<rect x="1003" y="452" width="1" height="11" fill="#c0c0c0"/>
<rect x="1007" y="452" width="1" height="20" fill="#c0c0c0"/>
<rect x="1011" y="452" width="1" height="24" fill="#c0c0c0"/>
<rect x="1015" y="452" width="1" height="28" fill="#c0c0c0"/>
<rect x="1019" y="452" width="1" height="31" fill="#c0c0c0"/>
<rect x="1023" y="452" width="1" height="31" fill="#c0c0c0"/>
<rect x="1027" y="452" width="1" height="33" fill="#c0c0c0"/>
<rect x="1031" y="452" width="1" height="35" fill="#c0c0c0"/>
<rect x="1035" y="452" width="1" height="42" fill="#c0c0c0"/>
<rect x="1039" y="452" width="1" height="46" fill="#c0c0c0"/>
</g>
<g clip-path="url(#cs)" shape-rendering="crispEdges"><path d="M7 400h1v1h-1zM8 401h1v1h-1zM9 402h1v1h-1zM13 406h1v1h-1zM14 406h1v1h-1zM15 407h1v1h-1zM19 410h1v1h-1zM20 411h1v1h-1zM21 412h1v1h-1zM25 416h1v2h-1zM26 418h1v1h-1zM29 422h1v1h-1zM30 423h1v1h-1zM31 424h1v1h-1zM35 428h1v1h-1zM36 429h1v1h-1zM37 430h1v1h-1zM41 434h1v2h-1zM42 436h1v1h-1zM46 440h1v1h-1zM47 441h1v1h-1zM48 442h1v1h-1zM51 446h1v1h-1zM52 447h1v1h-1zM53 448h1v1h-1zM57 452h1v1h-1zM58 452h1v1h-1zM59 453h1v1h-1zM63 455h1v1h-1zM64 455h1v1h-1zM65 455h1v1h-1zM69 454h1v1h-1zM70 454h1v1h-1zM71 454h1v1h-1zM75 453h1v1h-1zM76 453h1v1h-1zM77 453h1v1h-1zM81 452h1v1h-1zM82 452h1v1h-1zM83 452h1v1h-1zM87 453h1v1h-1zM88 453h1v1h-1zM89 454h1v1h-1zM93 455h1v1h-1zM94 455h1v1h-1zM95 455h1v1h-1zM99 457h1v1h-1zM100 458h1v1h-1zM101 458h1v1h-1zM105 460h1v1h-1zM106 461h1v1h-1zM107 461h1v1h-1zM111 464h1v1h-1zM112 464h1v1h-1zM113 465h1v1h-1zM117 466h1v1h-1zM118 467h1v1h-1zM119 467h1v1h-1zM123 467h1v1h-1zM124 467h1v1h-1zM125 466h1v1h-1zM129 465h1v1h-1zM130 464h1v1h-1zM131 464h1v1h-1zM135 461h1v1h-1zM136 460h1v1h-1zM137 459h1v1h-1zM141 456h1v1h-1zM142 455h1v1h-1zM143 454h1v1h-1zM147 450h1v1h-1zM148 449h1v1h-1zM149 448h1v1h-1zM153 443h1v2h-1zM154 442h1v1h-1zM158 438h1v1h-1zM159 437h1v1h-1zM160 436h1v1h-1zM164 432h1v1h-1zM165 431h1v1h-1zM166 430h1v1h-1zM170 427h1v1h-1zM171 426h1v1h-1zM172 425h1v1h-1zM176 421h1v1h-1zM177 420h1v1h-1zM178 420h1v1h-1zM182 417h1v1h-1zM183 417h1v1h-1zM184 417h1v1h-1zM188 416h1v1h-1zM189 415h1v1h-1zM190 415h1v1h-1zM194 413h1v1h-1zM195 413h1v1h-1zM196 413h1v1h-1zM200 413h1v1h-1zM201 412h1v1h-1zM202 412h1v1h-1zM206 411h1v1h-1zM207 411h1v1h-1zM208 411h1v1h-1zM212 412h1v1h-1zM213 412h1v1h-1zM214 412h1v1h-1zM218 413h1v1h-1zM219 413h1v1h-1zM220 413h1v1h-1zM224 414h1v1h-1zM225 415h1v1h-1zM226 415h1v1h-1zM230 417h1v1h-1zM231 417h1v1h-1zM232 418h1v1h-1zM236 421h1v1h-1zM237 421h1v1h-1zM238 422h1v1h-1zM242 424h1v1h-1zM243 425h1v1h-1zM244 426h1v1h-1zM248 429h1v1h-1zM249 430h1v1h-1zM250 430h1v1h-1zM254 433h1v1h-1zM255 433h1v1h-1zM256 433h1v1h-1zM260 434h1v1h-1zM261 435h1v1h-1zM262 435h1v1h-1zM266 436h1v1h-1zM267 436h1v1h-1zM268 436h1v1h-1zM272 436h1v1h-1zM273 436h1v1h-1zM274 436h1v1h-1zM278 435h1v1h-1zM279 435h1v1h-1zM280 435h1v1h-1zM284 433h1v1h-1zM285 432h1v1h-1zM286 432h1v1h-1zM290 429h1v1h-1zM291 429h1v1h-1zM292 429h1v1h-1zM296 427h1v1h-1zM297 427h1v1h-1zM298 426h1v1h-1zM302 424h1v1h-1zM303 424h1v1h-1zM304 423h1v1h-1zM308 422h1v1h-1zM309 421h1v1h-1zM310 421h1v1h-1zM314 420h1v1h-1zM315 420h1v1h-1zM316 420h1v1h-1zM320 420h1v1h-1zM321 421h1v1h-1zM322 421h1v1h-1zM326 423h1v1h-1zM327 423h1v1h-1zM328 423h1v1h-1zM332 424h1v1h-1zM333 425h1v1h-1zM334 425h1v1h-1zM338 427h1v1h-1zM339 427h1v1h-1zM340 427h1v1h-1zM344 427h1v1h-1zM345 428h1v1h-1zM346 428h1v1h-1zM350 427h1v1h-1zM351 427h1v1h-1zM352 427h1v1h-1zM356 425h1v1h-1zM357 424h1v1h-1zM358 424h1v1h-1zM362 421h1v1h-1zM363 421h1v1h-1zM364 420h1v1h-1zM368 417h1v1h-1zM369 417h1v1h-1zM370 416h1v1h-1zM374 414h1v1h-1zM375 413h1v1h-1zM376 412h1v1h-1zM380 409h1v1h-1zM381 409h1v1h-1zM382 408h1v1h-1zM386 406h1v1h-1zM387 406h1v1h-1zM388 405h1v1h-1zM392 403h1v1h-1zM393 402h1v1h-1zM394 402h1v1h-1zM398 401h1v1h-1zM399 401h1v1h-1zM400 401h1v1h-1zM404 402h1v1h-1zM405 403h1v1h-1zM406 403h1v1h-1zM410 405h1v1h-1zM411 406h1v1h-1zM412 407h1v1h-1zM416 410h1v1h-1zM417 411h1v1h-1zM418 412h1v1h-1zM421 416h1v1h-1zM422 417h1v1h-1zM423 418h1v1h-1zM426 422h1v2h-1zM427 424h1v1h-1zM430 428h1v2h-1zM431 430h1v1h-1zM435 434h1v1h-1zM436 435h1v1h-1zM437 436h1v1h-1zM441 440h1v1h-1zM442 440h1v1h-1zM443 441h1v1h-1zM447 442h1v1h-1zM448 442h1v1h-1zM449 443h1v1h-1zM453 443h1v1h-1zM454 443h1v1h-1zM455 443h1v1h-1zM459 443h1v1h-1zM460 442h1v1h-1zM461 442h1v1h-1zM465 440h1v1h-1zM466 440h1v1h-1zM467 440h1v1h-1zM471 439h1v1h-1zM472 439h1v1h-1zM473 439h1v1h-1zM477 439h1v1h-1zM478 439h1v1h-1zM479 439h1v1h-1zM483 440h1v1h-1zM484 440h1v1h-1zM485 441h1v1h-1zM489 442h1v1h-1zM490 443h1v1h-1zM491 443h1v1h-1zM495 446h1v1h-1zM496 447h1v1h-1zM497 448h1v1h-1zM501 452h1v2h-1zM502 454h1v1h-1zM506 458h1v1h-1zM507 459h1v1h-1zM508 460h1v1h-1zM512 463h1v1h-1zM513 464h1v1h-1zM514 464h1v1h-1zM518 467h1v1h-1zM519 468h1v1h-1zM520 468h1v1h-1zM524 469h1v1h-1zM525 470h1v1h-1zM526 470h1v1h-1zM530 468h1v1h-1zM531 468h1v1h-1zM532 467h1v1h-1zM536 463h1v1h-1zM537 461h1v2h-1zM541 456h1v2h-1zM542 455h1v1h-1zM545 451h1v1h-1zM546 450h1v1h-1zM547 449h1v1h-1zM550 445h1v1h-1zM551 444h1v1h-1zM552 443h1v1h-1zM556 439h1v1h-1zM557 438h1v1h-1zM558 438h1v1h-1zM562 434h1v1h-1zM563 433h1v1h-1zM564 432h1v1h-1zM568 428h1v1h-1zM569 427h1v1h-1zM570 427h1v1h-1zM574 424h1v1h-1zM575 423h1v1h-1zM576 422h1v1h-1zM580 420h1v1h-1zM581 419h1v1h-1zM582 419h1v1h-1zM586 416h1v1h-1zM587 415h1v1h-1zM588 414h1v1h-1zM592 411h1v1h-1zM593 411h1v1h-1zM594 410h1v1h-1zM598 408h1v1h-1zM599 408h1v1h-1zM600 408h1v1h-1zM604 407h1v1h-1zM605 408h1v1h-1zM606 408h1v1h-1zM610 410h1v1h-1zM611 410h1v1h-1zM612 410h1v1h-1zM616 412h1v1h-1zM617 413h1v1h-1zM618 413h1v1h-1zM622 416h1v1h-1zM623 417h1v1h-1zM624 418h1v1h-1zM628 422h1v1h-1zM629 423h1v1h-1zM630 424h1v1h-1zM633 428h1v1h-1zM634 429h1v1h-1zM635 430h1v1h-1zM639 434h1v1h-1zM640 435h1v1h-1zM641 436h1v1h-1zM645 440h1v1h-1zM646 440h1v1h-1zM647 441h1v1h-1zM651 445h1v1h-1zM652 446h1v1h-1zM653 447h1v1h-1zM657 450h1v1h-1zM658 450h1v1h-1zM659 451h1v1h-1zM663 452h1v1h-1zM664 453h1v1h-1zM665 453h1v1h-1zM669 456h1v1h-1zM670 456h1v1h-1zM671 457h1v1h-1zM675 460h1v1h-1zM676 461h1v1h-1zM677 462h1v1h-1zM681 466h1v1h-1zM682 467h1v1h-1zM683 468h1v1h-1zM686 472h1v1h-1zM687 473h1v1h-1zM688 474h1v1h-1zM691 478h1v1h-1zM692 479h1v2h-1zM694 484h1v1h-1zM695 485h1v2h-1zM697 490h1v1h-1zM698 491h1v2h-1zM700 496h1v1h-1zM701 497h1v2h-1zM703 502h1v1h-1zM704 503h1v2h-1zM706 508h1v1h-1zM707 509h1v1h-1zM708 510h1v1h-1zM710 514h1v2h-1zM711 516h1v1h-1zM713 520h1v1h-1zM714 521h1v2h-1zM717 526h1v1h-1zM718 527h1v1h-1zM719 528h1v1h-1zM723 532h1v1h-1zM724 533h1v1h-1zM725 533h1v1h-1zM729 535h1v1h-1zM730 535h1v1h-1zM731 535h1v1h-1zM735 535h1v1h-1zM736 534h1v1h-1zM737 534h1v1h-1zM741 531h1v1h-1zM742 530h1v1h-1zM743 529h1v1h-1zM747 526h1v1h-1zM748 525h1v1h-1zM749 524h1v1h-1zM753 520h1v1h-1zM754 519h1v1h-1zM755 518h1v1h-1zM759 514h1v1h-1zM760 513h1v1h-1zM761 512h1v1h-1zM765 509h1v1h-1zM766 508h1v1h-1zM767 507h1v1h-1zM771 504h1v1h-1zM772 503h1v1h-1zM773 502h1v1h-1zM777 499h1v1h-1zM778 499h1v1h-1zM779 498h1v1h-1zM783 495h1v1h-1zM784 494h1v1h-1zM785 493h1v1h-1zM789 489h1v2h-1zM790 488h1v1h-1zM794 484h1v1h-1zM795 483h1v1h-1zM796 482h1v1h-1zM800 478h1v1h-1zM801 476h1v2h-1zM805 472h1v1h-1zM806 471h1v1h-1zM807 470h1v1h-1zM811 466h1v1h-1zM812 465h1v1h-1zM813 464h1v1h-1zM816 460h1v1h-1zM817 459h1v1h-1zM818 458h1v1h-1zM822 454h1v1h-1zM823 453h1v1h-1zM824 452h1v1h-1zM828 449h1v1h-1zM829 448h1v1h-1zM830 448h1v1h-1zM834 445h1v1h-1zM835 445h1v1h-1zM836 444h1v1h-1zM840 441h1v1h-1zM841 441h1v1h-1zM842 440h1v1h-1zM846 439h1v1h-1zM847 439h1v1h-1zM848 439h1v1h-1zM852 438h1v1h-1zM853 437h1v1h-1zM854 437h1v1h-1zM858 437h1v1h-1zM859 437h1v1h-1zM860 437h1v1h-1zM864 436h1v1h-1zM865 437h1v1h-1zM866 437h1v1h-1zM870 439h1v1h-1zM871 440h1v1h-1zM872 441h1v1h-1zM876 444h1v1h-1zM877 445h1v1h-1zM878 446h1v1h-1zM882 449h1v1h-1zM883 450h1v1h-1zM884 451h1v1h-1zM888 454h1v1h-1zM889 455h1v1h-1zM890 455h1v1h-1zM894 458h1v1h-1zM895 459h1v1h-1zM896 460h1v1h-1zM900 463h1v1h-1zM901 463h1v1h-1zM902 464h1v1h-1zM906 463h1v1h-1zM907 463h1v1h-1zM908 463h1v1h-1zM912 461h1v1h-1zM913 460h1v1h-1zM914 460h1v1h-1zM918 457h1v1h-1zM919 457h1v1h-1zM920 456h1v1h-1zM924 454h1v1h-1zM925 454h1v1h-1zM926 453h1v1h-1zM930 451h1v1h-1zM931 451h1v1h-1zM932 450h1v1h-1zM936 448h1v1h-1zM937 448h1v1h-1zM938 447h1v1h-1zM942 446h1v1h-1zM943 446h1v1h-1zM944 446h1v1h-1zM948 446h1v1h-1zM949 447h1v1h-1zM950 447h1v1h-1zM954 449h1v1h-1zM955 449h1v1h-1zM956 449h1v1h-1zM960 450h1v1h-1zM961 451h1v1h-1zM962 451h1v1h-1zM966 452h1v1h-1zM967 452h1v1h-1zM968 452h1v1h-1zM972 452h1v1h-1zM973 453h1v1h-1zM974 453h1v1h-1zM978 452h1v1h-1zM979 452h1v1h-1zM980 452h1v1h-1zM984 451h1v1h-1zM985 450h1v1h-1zM986 450h1v1h-1zM990 449h1v1h-1zM991 449h1v1h-1zM992 449h1v1h-1zM996 448h1v1h-1zM997 447h1v1h-1zM998 447h1v1h-1zM1002 448h1v1h-1zM1003 448h1v1h-1zM1004 449h1v1h-1zM1008 452h1v1h-1zM1009 453h1v1h-1zM1010 453h1v1h-1zM1014 457h1v1h-1zM1015 458h1v1h-1zM1016 459h1v1h-1zM1020 463h1v1h-1zM1021 464h1v1h-1zM1022 465h1v1h-1zM1026 469h1v1h-1zM1027 470h1v1h-1zM1028 471h1v1h-1zM1032 475h1v1h-1zM1033 476h1v2h-1zM1037 481h1v1h-1zM1038 482h1v1h-1zM1039 483h1v1h-1z" fill="#ff0000"/></g>
<rect x="1310" y="54" width="3" height="1" fill="#000" shape-rendering="crispEdges"/>
<text x="1316" y="58" font-size="9.2" fill="#000" textLength="33.00" lengthAdjust="spacingAndGlyphs"  stroke="#000" stroke-width="0.1">1.01220</text>
<rect x="1310" y="87" width="3" height="1" fill="#000" shape-rendering="crispEdges"/>
<text x="1316" y="91" font-size="9.2" fill="#000" textLength="33.00" lengthAdjust="spacingAndGlyphs"  stroke="#000" stroke-width="0.1">1.00940</text>
<rect x="1310" y="120" width="3" height="1" fill="#000" shape-rendering="crispEdges"/>
<text x="1316" y="124" font-size="9.2" fill="#000" textLength="33.00" lengthAdjust="spacingAndGlyphs"  stroke="#000" stroke-width="0.1">1.00660</text>
<rect x="1310" y="153" width="3" height="1" fill="#000" shape-rendering="crispEdges"/>
<text x="1316" y="157" font-size="9.2" fill="#000" textLength="33.00" lengthAdjust="spacingAndGlyphs"  stroke="#000" stroke-width="0.1">1.00380</text>
<rect x="1310" y="186" width="3" height="1" fill="#000" shape-rendering="crispEdges"/>
<text x="1316" y="190" font-size="9.2" fill="#000" textLength="33.00" lengthAdjust="spacingAndGlyphs"  stroke="#000" stroke-width="0.1">1.00100</text>
<rect x="1310" y="219" width="3" height="1" fill="#000" shape-rendering="crispEdges"/>
<text x="1316" y="223" font-size="9.2" fill="#000" textLength="33.00" lengthAdjust="spacingAndGlyphs"  stroke="#000" stroke-width="0.1">0.99820</text>
<rect x="1310" y="252" width="3" height="1" fill="#000" shape-rendering="crispEdges"/>
<text x="1316" y="256" font-size="9.2" fill="#000" textLength="33.00" lengthAdjust="spacingAndGlyphs"  stroke="#000" stroke-width="0.1">0.99540</text>
<rect x="1310" y="285" width="3" height="1" fill="#000" shape-rendering="crispEdges"/>
<text x="1316" y="289" font-size="9.2" fill="#000" textLength="33.00" lengthAdjust="spacingAndGlyphs"  stroke="#000" stroke-width="0.1">0.99260</text>
<rect x="1310" y="351" width="3" height="1" fill="#000" shape-rendering="crispEdges"/>
<text x="1316" y="355" font-size="9.2" fill="#000" textLength="33.00" lengthAdjust="spacingAndGlyphs"  stroke="#000" stroke-width="0.1">0.98700</text>
<rect x="1310" y="384" width="3" height="1" fill="#000" shape-rendering="crispEdges"/>
<text x="1316" y="388" font-size="9.2" fill="#000" textLength="33.00" lengthAdjust="spacingAndGlyphs"  stroke="#000" stroke-width="0.1">0.98420</text>
<rect x="1312" y="315" width="41" height="11" fill="#000" shape-rendering="crispEdges"/><rect x="1310" y="317" width="2" height="1" fill="#000" shape-rendering="crispEdges"/>
<text x="1316" y="324" font-size="9.2" fill="#fff" textLength="33.00" lengthAdjust="spacingAndGlyphs"  stroke="#fff" stroke-width="0.1">0.98968</text>
<clipPath id="cr"><rect x="1311" y="27" width="42" height="546"/></clipPath>
<g clip-path="url(#cr)"><text x="1314" y="400" font-size="9.2" fill="#000" textLength="36.71" lengthAdjust="spacingAndGlyphs"  stroke="#000" stroke-width="0.1">0.002492</text></g>
<g clip-path="url(#cr)"><text x="1314" y="456" font-size="9.2" fill="#000" textLength="17.52" lengthAdjust="spacingAndGlyphs"  stroke="#000" stroke-width="0.1">0.00</text></g>
<g clip-path="url(#cr)"><text x="1314" y="547" font-size="9.2" fill="#000" textLength="41.89" lengthAdjust="spacingAndGlyphs"  stroke="#000" stroke-width="0.1">-0.003913</text></g>
<rect x="7" y="550" width="1" height="4" fill="#000" shape-rendering="crispEdges"/>
<text x="7" y="563" font-size="9.2" fill="#000" textLength="50.96" lengthAdjust="spacingAndGlyphs"  stroke="#000" stroke-width="0.1">10 Oct 2018</text>
<rect x="71" y="550" width="1" height="4" fill="#000" shape-rendering="crispEdges"/>
<text x="71" y="563" font-size="9.2" fill="#000" textLength="53.56" lengthAdjust="spacingAndGlyphs"  stroke="#000" stroke-width="0.1">12 Oct 22:00</text>
<rect x="135" y="550" width="1" height="4" fill="#000" shape-rendering="crispEdges"/>
<text x="135" y="563" font-size="9.2" fill="#000" textLength="53.56" lengthAdjust="spacingAndGlyphs"  stroke="#000" stroke-width="0.1">17 Oct 14:00</text>
<rect x="199" y="550" width="1" height="4" fill="#000" shape-rendering="crispEdges"/>
<text x="199" y="563" font-size="9.2" fill="#000" textLength="53.56" lengthAdjust="spacingAndGlyphs"  stroke="#000" stroke-width="0.1">22 Oct 07:00</text>
<rect x="263" y="550" width="1" height="4" fill="#000" shape-rendering="crispEdges"/>
<text x="263" y="563" font-size="9.2" fill="#000" textLength="53.56" lengthAdjust="spacingAndGlyphs"  stroke="#000" stroke-width="0.1">24 Oct 22:00</text>
<rect x="327" y="550" width="1" height="4" fill="#000" shape-rendering="crispEdges"/>
<text x="327" y="563" font-size="9.2" fill="#000" textLength="53.56" lengthAdjust="spacingAndGlyphs"  stroke="#000" stroke-width="0.1">29 Oct 15:00</text>
<rect x="391" y="550" width="1" height="4" fill="#000" shape-rendering="crispEdges"/>
<text x="391" y="563" font-size="9.2" fill="#000" textLength="50.43" lengthAdjust="spacingAndGlyphs"  stroke="#000" stroke-width="0.1">1 Nov 04:00</text>
<rect x="455" y="550" width="1" height="4" fill="#000" shape-rendering="crispEdges"/>
<text x="455" y="563" font-size="9.2" fill="#000" textLength="50.43" lengthAdjust="spacingAndGlyphs"  stroke="#000" stroke-width="0.1">5 Nov 23:00</text>
<rect x="519" y="550" width="1" height="4" fill="#000" shape-rendering="crispEdges"/>
<text x="519" y="563" font-size="9.2" fill="#000" textLength="50.43" lengthAdjust="spacingAndGlyphs"  stroke="#000" stroke-width="0.1">8 Nov 15:00</text>
<rect x="583" y="550" width="1" height="4" fill="#000" shape-rendering="crispEdges"/>
<text x="583" y="563" font-size="9.2" fill="#000" textLength="55.63" lengthAdjust="spacingAndGlyphs"  stroke="#000" stroke-width="0.1">13 Nov 04:00</text>
<rect x="647" y="550" width="1" height="4" fill="#000" shape-rendering="crispEdges"/>
<text x="647" y="563" font-size="9.2" fill="#000" textLength="55.63" lengthAdjust="spacingAndGlyphs"  stroke="#000" stroke-width="0.1">15 Nov 23:00</text>
<rect x="711" y="550" width="1" height="4" fill="#000" shape-rendering="crispEdges"/>
<text x="711" y="563" font-size="9.2" fill="#000" textLength="55.63" lengthAdjust="spacingAndGlyphs"  stroke="#000" stroke-width="0.1">20 Nov 15:00</text>
<rect x="775" y="550" width="1" height="4" fill="#000" shape-rendering="crispEdges"/>
<text x="775" y="563" font-size="9.2" fill="#000" textLength="55.63" lengthAdjust="spacingAndGlyphs"  stroke="#000" stroke-width="0.1">23 Nov 04:00</text>
<rect x="839" y="550" width="1" height="4" fill="#000" shape-rendering="crispEdges"/>
<text x="839" y="563" font-size="9.2" fill="#000" textLength="55.63" lengthAdjust="spacingAndGlyphs"  stroke="#000" stroke-width="0.1">27 Nov 23:00</text>
<rect x="903" y="550" width="1" height="4" fill="#000" shape-rendering="crispEdges"/>
<text x="903" y="563" font-size="9.2" fill="#000" textLength="55.63" lengthAdjust="spacingAndGlyphs"  stroke="#000" stroke-width="0.1">30 Nov 15:00</text>
<rect x="967" y="550" width="1" height="4" fill="#000" shape-rendering="crispEdges"/>
<text x="967" y="563" font-size="9.2" fill="#000" textLength="50.43" lengthAdjust="spacingAndGlyphs"  stroke="#000" stroke-width="0.1">5 Dec 04:00</text>
<rect x="1031" y="550" width="1" height="4" fill="#000" shape-rendering="crispEdges"/>
<text x="1031" y="563" font-size="9.2" fill="#000" textLength="50.43" lengthAdjust="spacingAndGlyphs"  stroke="#000" stroke-width="0.1">7 Dec 23:00</text>
<path d="M10 40 L13.5 35.5 L17 40 Z" fill="#000"/>
<text x="22" y="41" font-size="9.6" fill="#000" textLength="54.01" lengthAdjust="spacingAndGlyphs"  stroke="#000" stroke-width="0.1">USDCHF,H4</text>
<text x="83" y="41" font-size="9.6" fill="#000" textLength="140.00" lengthAdjust="spacingAndGlyphs"  stroke="#000" stroke-width="0.1">0.99017 0.99074 0.98924 0.98968</text>
<text x="11" y="402" font-size="9.6" fill="#000" textLength="153.52" lengthAdjust="spacingAndGlyphs"  stroke="#000" stroke-width="0.1">MACD(12,26,9) -0.001794 -0.001256</text>
<g shape-rendering="crispEdges">
<rect x="10" y="49" width="52" height="24" fill="#c00000"/><rect x="11" y="50" width="50" height="23" fill="url(#gtab)"/>
<rect x="10" y="73" width="109" height="40" fill="url(#gbig)"/><rect x="62" y="73" width="57" height="1" fill="#c00000"/>
<rect x="14" y="72" width="44" height="1" fill="#8c0000"/><rect x="14" y="73" width="44" height="1" fill="#f06060"/>
<rect x="177" y="49" width="52" height="24" fill="#c00000"/><rect x="178" y="50" width="50" height="23" fill="url(#gtab)"/>
<rect x="121" y="73" width="108" height="40" fill="url(#gbig)"/><rect x="121" y="73" width="56" height="1" fill="#c00000"/>
<rect x="181" y="72" width="44" height="1" fill="#8c0000"/><rect x="181" y="73" width="44" height="1" fill="#f06060"/>
</g>
<text x="22.5" y="65" font-size="12" fill="#ffe8e8" textLength="25.50" lengthAdjust="spacingAndGlyphs" >SELL</text>
<text x="190.5" y="65" font-size="12" fill="#ffe8e8" textLength="23.00" lengthAdjust="spacingAndGlyphs" >BUY</text>
<text x="30" y="104" font-size="12" font-weight="bold" fill="#fff">0.98</text>
<text x="57.5" y="103.5" font-size="35" fill="#fff" textLength="35" lengthAdjust="spacingAndGlyphs">96</text>
<text x="97" y="88" font-size="12" font-weight="bold" fill="#fff" textLength="6.3" lengthAdjust="spacingAndGlyphs">8</text>
<text x="140" y="104" font-size="12" font-weight="bold" fill="#fff">0.98</text>
<text x="168" y="103.5" font-size="35" fill="#fff" textLength="35" lengthAdjust="spacingAndGlyphs">99</text>
<text x="208" y="88" font-size="12" font-weight="bold" fill="#fff">1</text>
<rect x="64.5" y="49.5" width="112" height="21" fill="#fff" stroke="#b8b8b8"/>
<rect x="65.5" y="50.5" width="20" height="19" fill="url(#gbtn)" stroke="#c8c8c8"/>
<rect x="153.5" y="50.5" width="21" height="19" fill="url(#gbtn)" stroke="#c8c8c8"/>
<path d="M72 58 L77 58 L74.5 61 Z" fill="#4060c0"/>
<path d="M161 61 L166 61 L163.5 58 Z" fill="#4060c0"/>
<text x="150" y="64" font-size="12" text-anchor="end" fill="#000">3.00</text>
<rect x="59" y="0" width="1" height="24" fill="#c0c0c0"/>
<rect x="320" y="0" width="1" height="24" fill="#c0c0c0"/>
<rect x="63" y="3" width="3" height="1" fill="#a8a8a8"/>
<rect x="63" y="5" width="3" height="1" fill="#a8a8a8"/>
<rect x="63" y="7" width="3" height="1" fill="#a8a8a8"/>
<rect x="63" y="9" width="3" height="1" fill="#a8a8a8"/>
<rect x="63" y="11" width="3" height="1" fill="#a8a8a8"/>
<rect x="63" y="13" width="3" height="1" fill="#a8a8a8"/>
<rect x="63" y="15" width="3" height="1" fill="#a8a8a8"/>
<rect x="63" y="17" width="3" height="1" fill="#a8a8a8"/>
<rect x="63" y="19" width="3" height="1" fill="#a8a8a8"/>
<rect x="63" y="21" width="3" height="1" fill="#a8a8a8"/>
<g shape-rendering="crispEdges"><rect x="209" y="1" width="25" height="22" fill="#f7f7f7"/><rect x="209" y="1" width="25" height="1" fill="#a0a0a0"/><rect x="209" y="1" width="1" height="22" fill="#a0a0a0"/><rect x="234" y="1" width="1" height="23" fill="#ffffff"/><rect x="209" y="23" width="26" height="1" fill="#ffffff"/></g>
<text x="74.6" y="17" font-size="9.8" fill="#404040" stroke="#404040" stroke-width="0.08" textLength="12.4" lengthAdjust="spacingAndGlyphs">M1</text>
<text x="102.5" y="17" font-size="9.8" fill="#404040" stroke="#404040" stroke-width="0.08" textLength="12.8" lengthAdjust="spacingAndGlyphs">M5</text>
<text x="128.3" y="17" font-size="9.8" fill="#404040" stroke="#404040" stroke-width="0.08" textLength="17.7" lengthAdjust="spacingAndGlyphs">M15</text>
<text x="156" y="17" font-size="9.8" fill="#404040" stroke="#404040" stroke-width="0.08" textLength="18" lengthAdjust="spacingAndGlyphs">M30</text>
<text x="187" y="17" font-size="9.8" fill="#404040" stroke="#404040" stroke-width="0.08" textLength="12" lengthAdjust="spacingAndGlyphs">H1</text>
<text x="214.5" y="17" font-size="9.8" fill="#404040" stroke="#404040" stroke-width="0.08" textLength="12.5" lengthAdjust="spacingAndGlyphs">H4</text>
<text x="243.4" y="17" font-size="9.8" fill="#404040" stroke="#404040" stroke-width="0.08" textLength="12" lengthAdjust="spacingAndGlyphs">D1</text>
<text x="271" y="17" font-size="9.8" fill="#404040" stroke="#404040" stroke-width="0.08" textLength="14.4" lengthAdjust="spacingAndGlyphs">W1</text>
<text x="297" y="17" font-size="9.8" fill="#404040" stroke="#404040" stroke-width="0.08" textLength="15" lengthAdjust="spacingAndGlyphs">MN</text>
<g shape-rendering="crispEdges" fill="#505050">
<rect x="3" y="7" width="1" height="1"/>
<rect x="5" y="7" width="1" height="1"/>
<rect x="7" y="7" width="1" height="1"/>
<rect x="9" y="7" width="1" height="1"/>
<rect x="11" y="7" width="1" height="1"/>
<rect x="11" y="9" width="1" height="1"/>
<rect x="11" y="11" width="1" height="1"/>
<rect x="11" y="13" width="1" height="1"/>
<rect x="11" y="15" width="1" height="1"/>
<rect x="11" y="17" width="1" height="1"/>
<rect x="0" y="19" width="1" height="1"/>
<rect x="2" y="19" width="1" height="1"/>
<rect x="4" y="19" width="1" height="1"/>
<rect x="6" y="19" width="1" height="1"/>
<rect x="8" y="19" width="1" height="1"/>
<rect x="10" y="19" width="1" height="1"/>
<rect x="0" y="9" width="1" height="1"/>
<rect x="0" y="11" width="1" height="1"/>
<rect x="0" y="13" width="1" height="1"/>
<rect x="0" y="15" width="1" height="1"/>
<rect x="0" y="17" width="1" height="1"/>
<rect x="2" y="10" width="8" height="1"/><rect x="5" y="11" width="2" height="7"/>
</g>
<path d="M26.5 11.5 L30.5 6.8 L34.5 11.5 Z" fill="#505050"/>
<path d="M33.8 15 L41.2 15 L37.5 19.8 Z" fill="#505050"/>
<path d="M29.2 14.2 L31.5 16.6 L35.8 11.2" fill="none" stroke="#404040" stroke-width="1.1"/>
<path d="M47.5 12 L53.5 12 L50.5 15.2 Z" fill="#000"/>
<rect x="2" y="573" width="1353" height="1" fill="#000"/>
<rect x="0" y="574" width="1355" height="21" fill="#f0f0f0"/>
<rect x="2" y="574" width="2" height="18" fill="#a0a0a0"/>
<g shape-rendering="crispEdges"><rect x="0" y="593" width="1355" height="4" fill="#f7f7f7"/><rect x="0" y="597" width="1353" height="1" fill="#a0a0a0"/><rect x="1353" y="574" width="1" height="19" fill="#e3e3e3"/><rect x="1354" y="574" width="1" height="19" fill="#fafafa"/></g>
<rect x="100.5" y="573" width="87" height="18.5" fill="#fff" stroke="#000"/>
<rect x="101" y="572" width="86" height="2" fill="#fff"/>
<text x="20" y="588" font-size="12" fill="#707070" textLength="68" lengthAdjust="spacingAndGlyphs">EURUSD,H4</text>
<text x="110.5" y="588" font-size="12" fill="#000" textLength="66.5" lengthAdjust="spacingAndGlyphs">USDCHF,H4</text>
<text x="199" y="588" font-size="12" fill="#707070" textLength="68" lengthAdjust="spacingAndGlyphs">USDCAD,H4</text>
<rect x="280" y="577" width="1" height="13" fill="#505050"/>
<text x="290.8" y="588" font-size="12" fill="#707070" textLength="70" lengthAdjust="spacingAndGlyphs">AUDUSD,H4</text>
<rect x="372" y="577" width="1" height="13" fill="#505050"/>
<text x="382.4" y="588" font-size="12" fill="#707070" textLength="82.6" lengthAdjust="spacingAndGlyphs">USDCNH,Daily</text>
<rect x="476" y="577" width="1" height="13" fill="#505050"/>
<text x="486" y="588" font-size="12" fill="#707070" textLength="62" lengthAdjust="spacingAndGlyphs">USDJPY,H1</text>
<rect x="560" y="577" width="1" height="13" fill="#505050"/>
<text x="571" y="588" font-size="12" fill="#707070" textLength="68" lengthAdjust="spacingAndGlyphs">XAUUSD,H1</text>
<rect x="652" y="577" width="1" height="13" fill="#505050"/>
<path d="M1323 582 L1326 579 L1326 585 Z" fill="#a0a0a0"/><path d="M1342 579 L1345 582 L1342 585 Z" fill="#a0a0a0"/>
<g shape-rendering="crispEdges"><rect x="1353" y="27" width="1" height="546" fill="#e3e3e3"/><rect x="1354" y="24" width="1" height="549" fill="#f8f8f8"/></g>
<rect x="0" y="308" width="2" height="1" fill="#c8c8c8" shape-rendering="crispEdges"/>
</svg></body></html>
